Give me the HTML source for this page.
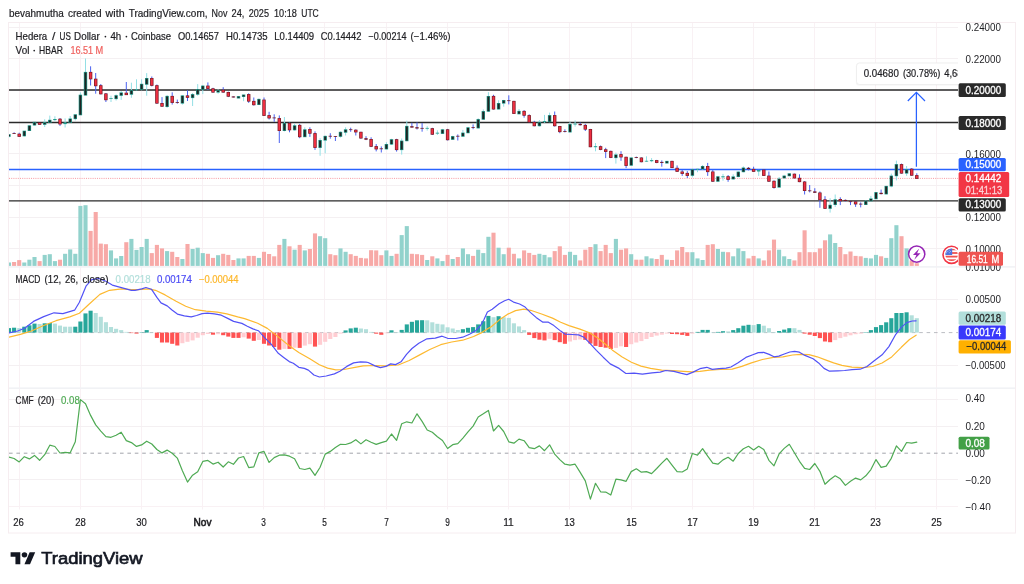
<!DOCTYPE html>
<html><head><meta charset="utf-8"><title>chart</title><style>html,body{margin:0;padding:0;background:#fff;}body{width:1024px;height:584px;position:relative;overflow:hidden;font-family:"Liberation Sans",sans-serif;}</style></head><body>
<svg width="1024" height="584" viewBox="0 0 1024 584" style="position:absolute;left:0;top:0;will-change:transform;filter:blur(0.35px)">
<defs>
<clipPath id="cm"><rect x="9.0" y="23" width="949.0" height="243.5"/></clipPath>
<clipPath id="cd"><rect x="9.0" y="268" width="949.0" height="119.5"/></clipPath>
<clipPath id="cc"><rect x="9.0" y="389" width="949.0" height="117.5"/></clipPath>
<clipPath id="ca1"><rect x="958" y="23" width="58" height="243.7"/></clipPath>
<clipPath id="ca2"><rect x="958" y="267.8" width="58" height="120"/></clipPath>
<clipPath id="ca3"><rect x="958" y="389" width="58" height="121"/></clipPath>
</defs>
<rect width="1024" height="584" fill="#fff"/>
<line x1="19.5" y1="23" x2="19.5" y2="509.5" stroke="#f9f1f4" stroke-width="1"/>
<line x1="80.5" y1="23" x2="80.5" y2="509.5" stroke="#f9f1f4" stroke-width="1"/>
<line x1="141.5" y1="23" x2="141.5" y2="509.5" stroke="#f9f1f4" stroke-width="1"/>
<line x1="202.5" y1="23" x2="202.5" y2="509.5" stroke="#f9f1f4" stroke-width="1"/>
<line x1="263.5" y1="23" x2="263.5" y2="509.5" stroke="#f9f1f4" stroke-width="1"/>
<line x1="324.5" y1="23" x2="324.5" y2="509.5" stroke="#f9f1f4" stroke-width="1"/>
<line x1="386.5" y1="23" x2="386.5" y2="509.5" stroke="#f9f1f4" stroke-width="1"/>
<line x1="447.5" y1="23" x2="447.5" y2="509.5" stroke="#f9f1f4" stroke-width="1"/>
<line x1="508.5" y1="23" x2="508.5" y2="509.5" stroke="#f9f1f4" stroke-width="1"/>
<line x1="569.5" y1="23" x2="569.5" y2="509.5" stroke="#f9f1f4" stroke-width="1"/>
<line x1="631.5" y1="23" x2="631.5" y2="509.5" stroke="#f9f1f4" stroke-width="1"/>
<line x1="692.5" y1="23" x2="692.5" y2="509.5" stroke="#f9f1f4" stroke-width="1"/>
<line x1="753.5" y1="23" x2="753.5" y2="509.5" stroke="#f9f1f4" stroke-width="1"/>
<line x1="814.5" y1="23" x2="814.5" y2="509.5" stroke="#f9f1f4" stroke-width="1"/>
<line x1="875.5" y1="23" x2="875.5" y2="509.5" stroke="#f9f1f4" stroke-width="1"/>
<line x1="936.5" y1="23" x2="936.5" y2="509.5" stroke="#f9f1f4" stroke-width="1"/>
<line x1="9.0" y1="27.5" x2="958.0" y2="27.5" stroke="#f4f0f2" stroke-width="1"/>
<line x1="9.0" y1="58.5" x2="958.0" y2="58.5" stroke="#f4f0f2" stroke-width="1"/>
<line x1="9.0" y1="90.5" x2="958.0" y2="90.5" stroke="#f4f0f2" stroke-width="1"/>
<line x1="9.0" y1="122.5" x2="958.0" y2="122.5" stroke="#f4f0f2" stroke-width="1"/>
<line x1="9.0" y1="153.5" x2="958.0" y2="153.5" stroke="#f4f0f2" stroke-width="1"/>
<line x1="9.0" y1="185.5" x2="958.0" y2="185.5" stroke="#f4f0f2" stroke-width="1"/>
<line x1="9.0" y1="217.5" x2="958.0" y2="217.5" stroke="#f4f0f2" stroke-width="1"/>
<line x1="9.0" y1="248.5" x2="958.0" y2="248.5" stroke="#f4f0f2" stroke-width="1"/>
<line x1="9.0" y1="299.5" x2="958.0" y2="299.5" stroke="#f4f0f2" stroke-width="1"/>
<line x1="9.0" y1="365.5" x2="958.0" y2="365.5" stroke="#f4f0f2" stroke-width="1"/>
<line x1="9.0" y1="399.5" x2="958.0" y2="399.5" stroke="#f4f0f2" stroke-width="1"/>
<line x1="9.0" y1="426.5" x2="958.0" y2="426.5" stroke="#f4f0f2" stroke-width="1"/>
<line x1="9.0" y1="479.5" x2="958.0" y2="479.5" stroke="#f4f0f2" stroke-width="1"/>
<rect x="8.5" y="266.1" width="1007" height="1.6" fill="#f1f2f5"/>
<rect x="8.5" y="387.4" width="1007" height="1.6" fill="#f1f2f5"/>
<line x1="9.0" y1="506.5" x2="958.0" y2="506.5" stroke="#f9f1f4" stroke-width="1"/>
<rect x="8.5" y="22.5" width="1007" height="510.5" fill="none" stroke="#f6edf0" stroke-width="1"/>
<g clip-path="url(#cm)">
<rect x="6.95" y="262.5" width="4.1" height="3.4" fill="#92d2cc"/>
<rect x="12.05" y="262.0" width="4.1" height="3.9" fill="#f7a9a7"/>
<rect x="17.15" y="260.1" width="4.1" height="5.8" fill="#f7a9a7"/>
<rect x="22.25" y="262.5" width="4.1" height="3.4" fill="#92d2cc"/>
<rect x="27.35" y="259.7" width="4.1" height="6.2" fill="#92d2cc"/>
<rect x="32.45" y="257.0" width="4.1" height="8.9" fill="#92d2cc"/>
<rect x="37.55" y="261.1" width="4.1" height="4.8" fill="#f7a9a7"/>
<rect x="42.65" y="254.9" width="4.1" height="11.0" fill="#92d2cc"/>
<rect x="47.75" y="254.2" width="4.1" height="11.7" fill="#92d2cc"/>
<rect x="52.85" y="261.1" width="4.1" height="4.8" fill="#92d2cc"/>
<rect x="57.95" y="259.7" width="4.1" height="6.2" fill="#f7a9a7"/>
<rect x="63.05" y="253.8" width="4.1" height="12.1" fill="#92d2cc"/>
<rect x="68.15" y="249.4" width="4.1" height="16.5" fill="#92d2cc"/>
<rect x="73.25" y="253.8" width="4.1" height="12.1" fill="#92d2cc"/>
<rect x="78.35" y="205.9" width="4.1" height="60.0" fill="#92d2cc"/>
<rect x="83.45" y="205.2" width="4.1" height="60.7" fill="#92d2cc"/>
<rect x="88.55" y="230.9" width="4.1" height="35.0" fill="#f7a9a7"/>
<rect x="93.65" y="212.0" width="4.1" height="53.9" fill="#f7a9a7"/>
<rect x="98.75" y="243.6" width="4.1" height="22.3" fill="#f7a9a7"/>
<rect x="103.85" y="244.2" width="4.1" height="21.7" fill="#f7a9a7"/>
<rect x="108.95" y="250.4" width="4.1" height="15.5" fill="#92d2cc"/>
<rect x="114.05" y="258.4" width="4.1" height="7.5" fill="#92d2cc"/>
<rect x="119.15" y="256.0" width="4.1" height="9.9" fill="#92d2cc"/>
<rect x="124.25" y="242.2" width="4.1" height="23.7" fill="#f7a9a7"/>
<rect x="129.35" y="238.9" width="4.1" height="27.0" fill="#92d2cc"/>
<rect x="134.45" y="249.9" width="4.1" height="16.0" fill="#92d2cc"/>
<rect x="139.55" y="247.0" width="4.1" height="18.9" fill="#92d2cc"/>
<rect x="144.65" y="238.9" width="4.1" height="27.0" fill="#92d2cc"/>
<rect x="149.75" y="253.1" width="4.1" height="12.8" fill="#f7a9a7"/>
<rect x="154.85" y="244.9" width="4.1" height="21.0" fill="#f7a9a7"/>
<rect x="159.95" y="248.4" width="4.1" height="17.5" fill="#f7a9a7"/>
<rect x="165.05" y="251.1" width="4.1" height="14.8" fill="#92d2cc"/>
<rect x="170.15" y="251.8" width="4.1" height="14.1" fill="#f7a9a7"/>
<rect x="175.25" y="257.0" width="4.1" height="8.9" fill="#f7a9a7"/>
<rect x="180.35" y="259.0" width="4.1" height="6.9" fill="#92d2cc"/>
<rect x="185.45" y="244.0" width="4.1" height="21.9" fill="#f7a9a7"/>
<rect x="190.55" y="249.0" width="4.1" height="16.9" fill="#92d2cc"/>
<rect x="195.65" y="247.7" width="4.1" height="18.2" fill="#92d2cc"/>
<rect x="200.75" y="253.1" width="4.1" height="12.8" fill="#92d2cc"/>
<rect x="205.85" y="253.8" width="4.1" height="12.1" fill="#f7a9a7"/>
<rect x="210.95" y="257.9" width="4.1" height="8.0" fill="#f7a9a7"/>
<rect x="216.05" y="255.2" width="4.1" height="10.7" fill="#92d2cc"/>
<rect x="221.15" y="253.8" width="4.1" height="12.1" fill="#f7a9a7"/>
<rect x="226.25" y="254.9" width="4.1" height="11.0" fill="#f7a9a7"/>
<rect x="231.35" y="260.0" width="4.1" height="5.9" fill="#f7a9a7"/>
<rect x="236.45" y="258.4" width="4.1" height="7.5" fill="#92d2cc"/>
<rect x="241.55" y="258.4" width="4.1" height="7.5" fill="#92d2cc"/>
<rect x="246.65" y="255.9" width="4.1" height="10.0" fill="#f7a9a7"/>
<rect x="251.75" y="255.9" width="4.1" height="10.0" fill="#f7a9a7"/>
<rect x="256.85" y="257.9" width="4.1" height="8.0" fill="#92d2cc"/>
<rect x="261.95" y="251.8" width="4.1" height="14.1" fill="#f7a9a7"/>
<rect x="267.05" y="254.0" width="4.1" height="11.9" fill="#f7a9a7"/>
<rect x="272.15" y="256.3" width="4.1" height="9.6" fill="#f7a9a7"/>
<rect x="277.25" y="244.9" width="4.1" height="21.0" fill="#f7a9a7"/>
<rect x="282.35" y="238.9" width="4.1" height="27.0" fill="#92d2cc"/>
<rect x="287.45" y="246.3" width="4.1" height="19.6" fill="#f7a9a7"/>
<rect x="292.55" y="249.7" width="4.1" height="16.2" fill="#92d2cc"/>
<rect x="297.65" y="244.9" width="4.1" height="21.0" fill="#f7a9a7"/>
<rect x="302.75" y="250.4" width="4.1" height="15.5" fill="#92d2cc"/>
<rect x="307.85" y="249.0" width="4.1" height="16.9" fill="#f7a9a7"/>
<rect x="312.95" y="233.4" width="4.1" height="32.5" fill="#f7a9a7"/>
<rect x="318.05" y="236.2" width="4.1" height="29.7" fill="#92d2cc"/>
<rect x="323.15" y="238.2" width="4.1" height="27.7" fill="#92d2cc"/>
<rect x="328.25" y="254.2" width="4.1" height="11.7" fill="#f7a9a7"/>
<rect x="333.35" y="255.2" width="4.1" height="10.7" fill="#f7a9a7"/>
<rect x="338.45" y="248.4" width="4.1" height="17.5" fill="#92d2cc"/>
<rect x="343.55" y="251.8" width="4.1" height="14.1" fill="#92d2cc"/>
<rect x="348.65" y="254.2" width="4.1" height="11.7" fill="#f7a9a7"/>
<rect x="353.75" y="255.9" width="4.1" height="10.0" fill="#f7a9a7"/>
<rect x="358.85" y="257.9" width="4.1" height="8.0" fill="#f7a9a7"/>
<rect x="363.95" y="258.4" width="4.1" height="7.5" fill="#f7a9a7"/>
<rect x="369.05" y="250.2" width="4.1" height="15.7" fill="#f7a9a7"/>
<rect x="374.15" y="250.4" width="4.1" height="15.5" fill="#f7a9a7"/>
<rect x="379.25" y="255.2" width="4.1" height="10.7" fill="#f7a9a7"/>
<rect x="384.35" y="250.4" width="4.1" height="15.5" fill="#92d2cc"/>
<rect x="389.45" y="255.9" width="4.1" height="10.0" fill="#92d2cc"/>
<rect x="394.55" y="253.8" width="4.1" height="12.1" fill="#f7a9a7"/>
<rect x="399.65" y="235.1" width="4.1" height="30.8" fill="#92d2cc"/>
<rect x="404.75" y="226.1" width="4.1" height="39.8" fill="#92d2cc"/>
<rect x="409.85" y="253.8" width="4.1" height="12.1" fill="#f7a9a7"/>
<rect x="414.95" y="254.2" width="4.1" height="11.7" fill="#f7a9a7"/>
<rect x="420.05" y="254.9" width="4.1" height="11.0" fill="#f7a9a7"/>
<rect x="425.15" y="260.0" width="4.1" height="5.9" fill="#92d2cc"/>
<rect x="430.25" y="256.3" width="4.1" height="9.6" fill="#f7a9a7"/>
<rect x="435.35" y="258.4" width="4.1" height="7.5" fill="#92d2cc"/>
<rect x="440.45" y="261.1" width="4.1" height="4.8" fill="#92d2cc"/>
<rect x="445.55" y="254.9" width="4.1" height="11.0" fill="#f7a9a7"/>
<rect x="450.65" y="259.0" width="4.1" height="6.9" fill="#92d2cc"/>
<rect x="455.75" y="257.0" width="4.1" height="8.9" fill="#f7a9a7"/>
<rect x="460.85" y="248.4" width="4.1" height="17.5" fill="#92d2cc"/>
<rect x="465.95" y="254.2" width="4.1" height="11.7" fill="#92d2cc"/>
<rect x="471.05" y="255.9" width="4.1" height="10.0" fill="#f7a9a7"/>
<rect x="476.15" y="249.7" width="4.1" height="16.2" fill="#92d2cc"/>
<rect x="481.25" y="253.1" width="4.1" height="12.8" fill="#92d2cc"/>
<rect x="486.35" y="236.8" width="4.1" height="29.1" fill="#92d2cc"/>
<rect x="491.45" y="232.7" width="4.1" height="33.2" fill="#f7a9a7"/>
<rect x="496.55" y="247.7" width="4.1" height="18.2" fill="#92d2cc"/>
<rect x="501.65" y="254.2" width="4.1" height="11.7" fill="#92d2cc"/>
<rect x="506.75" y="247.7" width="4.1" height="18.2" fill="#f7a9a7"/>
<rect x="511.85" y="253.8" width="4.1" height="12.1" fill="#f7a9a7"/>
<rect x="516.95" y="258.4" width="4.1" height="7.5" fill="#92d2cc"/>
<rect x="522.05" y="250.4" width="4.1" height="15.5" fill="#f7a9a7"/>
<rect x="527.15" y="252.9" width="4.1" height="13.0" fill="#f7a9a7"/>
<rect x="532.25" y="254.9" width="4.1" height="11.0" fill="#f7a9a7"/>
<rect x="537.35" y="253.8" width="4.1" height="12.1" fill="#92d2cc"/>
<rect x="542.45" y="254.9" width="4.1" height="11.0" fill="#92d2cc"/>
<rect x="547.55" y="257.3" width="4.1" height="8.6" fill="#92d2cc"/>
<rect x="552.65" y="251.1" width="4.1" height="14.8" fill="#f7a9a7"/>
<rect x="557.75" y="246.3" width="4.1" height="19.6" fill="#f7a9a7"/>
<rect x="562.85" y="254.9" width="4.1" height="11.0" fill="#f7a9a7"/>
<rect x="567.95" y="251.8" width="4.1" height="14.1" fill="#92d2cc"/>
<rect x="573.05" y="254.9" width="4.1" height="11.0" fill="#92d2cc"/>
<rect x="578.15" y="260.4" width="4.1" height="5.5" fill="#f7a9a7"/>
<rect x="583.25" y="249.7" width="4.1" height="16.2" fill="#f7a9a7"/>
<rect x="588.35" y="247.0" width="4.1" height="18.9" fill="#f7a9a7"/>
<rect x="593.45" y="244.2" width="4.1" height="21.7" fill="#92d2cc"/>
<rect x="598.55" y="251.1" width="4.1" height="14.8" fill="#f7a9a7"/>
<rect x="603.65" y="244.9" width="4.1" height="21.0" fill="#f7a9a7"/>
<rect x="608.75" y="253.1" width="4.1" height="12.8" fill="#f7a9a7"/>
<rect x="613.85" y="238.9" width="4.1" height="27.0" fill="#92d2cc"/>
<rect x="618.95" y="249.7" width="4.1" height="16.2" fill="#f7a9a7"/>
<rect x="624.05" y="248.4" width="4.1" height="17.5" fill="#f7a9a7"/>
<rect x="629.15" y="254.2" width="4.1" height="11.7" fill="#92d2cc"/>
<rect x="634.25" y="259.7" width="4.1" height="6.2" fill="#f7a9a7"/>
<rect x="639.35" y="259.7" width="4.1" height="6.2" fill="#f7a9a7"/>
<rect x="644.45" y="256.3" width="4.1" height="9.6" fill="#92d2cc"/>
<rect x="649.55" y="258.4" width="4.1" height="7.5" fill="#92d2cc"/>
<rect x="654.65" y="259.0" width="4.1" height="6.9" fill="#f7a9a7"/>
<rect x="659.75" y="254.9" width="4.1" height="11.0" fill="#f7a9a7"/>
<rect x="664.85" y="259.7" width="4.1" height="6.2" fill="#92d2cc"/>
<rect x="669.95" y="260.0" width="4.1" height="5.9" fill="#f7a9a7"/>
<rect x="675.05" y="250.4" width="4.1" height="15.5" fill="#f7a9a7"/>
<rect x="680.15" y="247.0" width="4.1" height="18.9" fill="#f7a9a7"/>
<rect x="685.25" y="252.2" width="4.1" height="13.7" fill="#f7a9a7"/>
<rect x="690.35" y="252.2" width="4.1" height="13.7" fill="#92d2cc"/>
<rect x="695.45" y="258.4" width="4.1" height="7.5" fill="#92d2cc"/>
<rect x="700.55" y="260.0" width="4.1" height="5.9" fill="#92d2cc"/>
<rect x="705.65" y="244.9" width="4.1" height="21.0" fill="#f7a9a7"/>
<rect x="710.75" y="244.2" width="4.1" height="21.7" fill="#f7a9a7"/>
<rect x="715.85" y="249.0" width="4.1" height="16.9" fill="#92d2cc"/>
<rect x="720.95" y="251.8" width="4.1" height="14.1" fill="#92d2cc"/>
<rect x="726.05" y="252.2" width="4.1" height="13.7" fill="#f7a9a7"/>
<rect x="731.15" y="256.3" width="4.1" height="9.6" fill="#92d2cc"/>
<rect x="736.25" y="248.4" width="4.1" height="17.5" fill="#92d2cc"/>
<rect x="741.35" y="251.1" width="4.1" height="14.8" fill="#92d2cc"/>
<rect x="746.45" y="258.4" width="4.1" height="7.5" fill="#f7a9a7"/>
<rect x="751.55" y="255.9" width="4.1" height="10.0" fill="#f7a9a7"/>
<rect x="756.65" y="258.4" width="4.1" height="7.5" fill="#92d2cc"/>
<rect x="761.75" y="260.4" width="4.1" height="5.5" fill="#f7a9a7"/>
<rect x="766.85" y="250.4" width="4.1" height="15.5" fill="#f7a9a7"/>
<rect x="771.95" y="239.6" width="4.1" height="26.3" fill="#f7a9a7"/>
<rect x="777.05" y="249.7" width="4.1" height="16.2" fill="#92d2cc"/>
<rect x="782.15" y="256.3" width="4.1" height="9.6" fill="#92d2cc"/>
<rect x="787.25" y="259.0" width="4.1" height="6.9" fill="#92d2cc"/>
<rect x="792.35" y="260.4" width="4.1" height="5.5" fill="#f7a9a7"/>
<rect x="797.45" y="252.2" width="4.1" height="13.7" fill="#f7a9a7"/>
<rect x="802.55" y="230.3" width="4.1" height="35.6" fill="#f7a9a7"/>
<rect x="807.65" y="252.2" width="4.1" height="13.7" fill="#f7a9a7"/>
<rect x="812.75" y="252.2" width="4.1" height="13.7" fill="#f7a9a7"/>
<rect x="817.85" y="248.4" width="4.1" height="17.5" fill="#f7a9a7"/>
<rect x="822.95" y="240.3" width="4.1" height="25.6" fill="#f7a9a7"/>
<rect x="828.05" y="234.4" width="4.1" height="31.5" fill="#92d2cc"/>
<rect x="833.15" y="243.0" width="4.1" height="22.9" fill="#92d2cc"/>
<rect x="838.25" y="247.0" width="4.1" height="18.9" fill="#f7a9a7"/>
<rect x="843.35" y="254.2" width="4.1" height="11.7" fill="#f7a9a7"/>
<rect x="848.45" y="251.5" width="4.1" height="14.4" fill="#f7a9a7"/>
<rect x="853.55" y="255.9" width="4.1" height="10.0" fill="#f7a9a7"/>
<rect x="858.65" y="256.3" width="4.1" height="9.6" fill="#f7a9a7"/>
<rect x="863.75" y="257.9" width="4.1" height="8.0" fill="#92d2cc"/>
<rect x="868.85" y="258.4" width="4.1" height="7.5" fill="#92d2cc"/>
<rect x="873.95" y="254.9" width="4.1" height="11.0" fill="#92d2cc"/>
<rect x="879.05" y="256.3" width="4.1" height="9.6" fill="#f7a9a7"/>
<rect x="884.15" y="257.9" width="4.1" height="8.0" fill="#92d2cc"/>
<rect x="889.25" y="238.2" width="4.1" height="27.7" fill="#92d2cc"/>
<rect x="894.35" y="225.2" width="4.1" height="40.7" fill="#92d2cc"/>
<rect x="899.45" y="236.2" width="4.1" height="29.7" fill="#f7a9a7"/>
<rect x="904.55" y="248.4" width="4.1" height="17.5" fill="#92d2cc"/>
<rect x="909.65" y="260.4" width="4.1" height="5.5" fill="#f7a9a7"/>
<rect x="914.75" y="263.2" width="4.1" height="2.7" fill="#f7a9a7"/>
<line x1="9.0" y1="90.0" x2="958.0" y2="90.0" stroke="#2a2a2a" stroke-width="1.35"/>
<line x1="9.0" y1="122.5" x2="958.0" y2="122.5" stroke="#2a2a2a" stroke-width="1.35"/>
<line x1="9.0" y1="200.9" x2="958.0" y2="200.9" stroke="#2a2a2a" stroke-width="1.35"/>
<line x1="9.0" y1="169.5" x2="958.0" y2="169.5" stroke="#2962ff" stroke-width="1.5"/>
<line x1="9.0" y1="178.4" x2="958.0" y2="178.4" stroke="#f2364580" stroke-width="1" stroke-dasharray="1 1.2"/>
<line x1="9.00" y1="134.5" x2="9.00" y2="137.5" stroke="#93dfe5" stroke-width="1"/>
<rect x="7.30" y="134.2" width="3.4" height="2.6" fill="#239c8c"/>
<rect x="8.00" y="134.8" width="2.0" height="1.4" fill="#1f2423"/>
<line x1="14.10" y1="132.3" x2="14.10" y2="134.0" stroke="#4a62f0" stroke-width="1"/>
<rect x="12.40" y="133.2" width="3.4" height="0.8" fill="#741723"/>
<line x1="19.20" y1="132.7" x2="19.20" y2="137.0" stroke="#4a62f0" stroke-width="1"/>
<rect x="17.50" y="133.7" width="3.4" height="3.1" fill="#741723"/>
<rect x="18.20" y="134.3" width="2.0" height="1.9" fill="#ee2f41"/>
<line x1="24.30" y1="131.0" x2="24.30" y2="136.5" stroke="#93dfe5" stroke-width="1"/>
<rect x="22.60" y="130.7" width="3.4" height="5.6" fill="#239c8c"/>
<rect x="23.30" y="131.3" width="2.0" height="4.4" fill="#1f2423"/>
<line x1="29.40" y1="125.6" x2="29.40" y2="130.7" stroke="#93dfe5" stroke-width="1"/>
<rect x="27.70" y="125.3" width="3.4" height="5.7" fill="#239c8c"/>
<rect x="28.40" y="125.9" width="2.0" height="4.5" fill="#1f2423"/>
<line x1="34.50" y1="122.2" x2="34.50" y2="125.5" stroke="#93dfe5" stroke-width="1"/>
<rect x="32.80" y="121.9" width="3.4" height="3.6" fill="#239c8c"/>
<rect x="33.50" y="122.5" width="2.0" height="2.4" fill="#1f2423"/>
<line x1="39.60" y1="122.7" x2="39.60" y2="124.5" stroke="#4a62f0" stroke-width="1"/>
<rect x="37.90" y="122.4" width="3.4" height="2.4" fill="#741723"/>
<rect x="38.60" y="123.0" width="2.0" height="1.2" fill="#ee2f41"/>
<line x1="44.70" y1="119.3" x2="44.70" y2="127.0" stroke="#93dfe5" stroke-width="1"/>
<rect x="43.00" y="122.2" width="3.4" height="2.6" fill="#239c8c"/>
<rect x="43.70" y="122.8" width="2.0" height="1.4" fill="#1f2423"/>
<line x1="49.80" y1="115.6" x2="49.80" y2="122.7" stroke="#93dfe5" stroke-width="1"/>
<rect x="48.10" y="119.8" width="3.4" height="3.2" fill="#239c8c"/>
<rect x="48.80" y="120.4" width="2.0" height="2.0" fill="#1f2423"/>
<line x1="54.90" y1="116.3" x2="54.90" y2="121.1" stroke="#93dfe5" stroke-width="1"/>
<rect x="53.20" y="119.0" width="3.4" height="1.1" fill="#239c8c"/>
<line x1="60.00" y1="118.0" x2="60.00" y2="125.9" stroke="#4a62f0" stroke-width="1"/>
<rect x="58.30" y="118.7" width="3.4" height="5.7" fill="#741723"/>
<rect x="59.00" y="119.3" width="2.0" height="4.5" fill="#ee2f41"/>
<line x1="65.10" y1="118.4" x2="65.10" y2="127.5" stroke="#93dfe5" stroke-width="1"/>
<rect x="63.40" y="122.5" width="3.4" height="1.6" fill="#239c8c"/>
<line x1="70.20" y1="116.0" x2="70.20" y2="122.7" stroke="#93dfe5" stroke-width="1"/>
<rect x="68.50" y="118.5" width="3.4" height="4.5" fill="#239c8c"/>
<rect x="69.20" y="119.1" width="2.0" height="3.3" fill="#1f2423"/>
<line x1="75.30" y1="114.6" x2="75.30" y2="120.4" stroke="#93dfe5" stroke-width="1"/>
<rect x="73.60" y="114.3" width="3.4" height="4.8" fill="#239c8c"/>
<rect x="74.30" y="114.9" width="2.0" height="3.6" fill="#1f2423"/>
<line x1="80.40" y1="92.3" x2="80.40" y2="115.0" stroke="#93dfe5" stroke-width="1"/>
<rect x="78.70" y="94.7" width="3.4" height="20.6" fill="#239c8c"/>
<rect x="79.40" y="95.3" width="2.0" height="19.4" fill="#1f2423"/>
<line x1="85.50" y1="58.5" x2="85.50" y2="95.3" stroke="#93dfe5" stroke-width="1"/>
<rect x="83.80" y="71.9" width="3.4" height="23.7" fill="#239c8c"/>
<rect x="84.50" y="72.5" width="2.0" height="22.5" fill="#1f2423"/>
<line x1="90.60" y1="66.3" x2="90.60" y2="85.5" stroke="#4a62f0" stroke-width="1"/>
<rect x="88.90" y="71.9" width="3.4" height="7.4" fill="#741723"/>
<rect x="89.60" y="72.5" width="2.0" height="6.2" fill="#ee2f41"/>
<line x1="95.70" y1="73.0" x2="95.70" y2="93.7" stroke="#4a62f0" stroke-width="1"/>
<rect x="94.00" y="78.7" width="3.4" height="7.5" fill="#741723"/>
<rect x="94.70" y="79.3" width="2.0" height="6.3" fill="#ee2f41"/>
<line x1="100.80" y1="84.0" x2="100.80" y2="94.4" stroke="#4a62f0" stroke-width="1"/>
<rect x="99.10" y="85.2" width="3.4" height="9.1" fill="#741723"/>
<rect x="99.80" y="85.8" width="2.0" height="7.9" fill="#ee2f41"/>
<line x1="105.90" y1="93.0" x2="105.90" y2="102.0" stroke="#4a62f0" stroke-width="1"/>
<rect x="104.20" y="93.4" width="3.4" height="6.8" fill="#741723"/>
<rect x="104.90" y="94.0" width="2.0" height="5.6" fill="#ee2f41"/>
<line x1="111.00" y1="95.7" x2="111.00" y2="102.0" stroke="#93dfe5" stroke-width="1"/>
<rect x="109.30" y="98.2" width="3.4" height="0.8" fill="#239c8c"/>
<line x1="116.10" y1="94.4" x2="116.10" y2="100.5" stroke="#93dfe5" stroke-width="1"/>
<rect x="114.40" y="95.2" width="3.4" height="3.9" fill="#239c8c"/>
<rect x="115.10" y="95.8" width="2.0" height="2.7" fill="#1f2423"/>
<line x1="121.20" y1="91.0" x2="121.20" y2="99.9" stroke="#93dfe5" stroke-width="1"/>
<rect x="119.50" y="92.4" width="3.4" height="3.4" fill="#239c8c"/>
<rect x="120.20" y="93.0" width="2.0" height="2.2" fill="#1f2423"/>
<line x1="126.30" y1="82.0" x2="126.30" y2="94.8" stroke="#4a62f0" stroke-width="1"/>
<rect x="124.60" y="92.7" width="3.4" height="2.4" fill="#741723"/>
<rect x="125.30" y="93.3" width="2.0" height="1.2" fill="#ee2f41"/>
<line x1="131.40" y1="82.7" x2="131.40" y2="97.8" stroke="#93dfe5" stroke-width="1"/>
<rect x="129.70" y="90.0" width="3.4" height="4.7" fill="#239c8c"/>
<rect x="130.40" y="90.6" width="2.0" height="3.5" fill="#1f2423"/>
<line x1="136.50" y1="79.3" x2="136.50" y2="90.3" stroke="#93dfe5" stroke-width="1"/>
<rect x="134.80" y="89.3" width="3.4" height="1.0" fill="#239c8c"/>
<line x1="141.60" y1="79.3" x2="141.60" y2="90.3" stroke="#93dfe5" stroke-width="1"/>
<rect x="139.90" y="83.8" width="3.4" height="6.1" fill="#239c8c"/>
<rect x="140.60" y="84.4" width="2.0" height="4.9" fill="#1f2423"/>
<line x1="146.70" y1="73.1" x2="146.70" y2="95.7" stroke="#93dfe5" stroke-width="1"/>
<rect x="145.00" y="78.0" width="3.4" height="6.7" fill="#239c8c"/>
<rect x="145.70" y="78.6" width="2.0" height="5.5" fill="#1f2423"/>
<line x1="151.80" y1="76.5" x2="151.80" y2="86.4" stroke="#4a62f0" stroke-width="1"/>
<rect x="150.10" y="78.0" width="3.4" height="7.8" fill="#741723"/>
<rect x="150.80" y="78.6" width="2.0" height="6.6" fill="#ee2f41"/>
<line x1="156.90" y1="84.5" x2="156.90" y2="103.8" stroke="#4a62f0" stroke-width="1"/>
<rect x="155.20" y="85.2" width="3.4" height="18.4" fill="#741723"/>
<rect x="155.90" y="85.8" width="2.0" height="17.2" fill="#ee2f41"/>
<line x1="162.00" y1="97.1" x2="162.00" y2="106.7" stroke="#4a62f0" stroke-width="1"/>
<rect x="160.30" y="103.0" width="3.4" height="3.7" fill="#741723"/>
<rect x="161.00" y="103.6" width="2.0" height="2.5" fill="#ee2f41"/>
<line x1="167.10" y1="95.1" x2="167.10" y2="107.8" stroke="#93dfe5" stroke-width="1"/>
<rect x="165.40" y="95.9" width="3.4" height="11.1" fill="#239c8c"/>
<rect x="166.10" y="96.5" width="2.0" height="9.9" fill="#1f2423"/>
<line x1="172.20" y1="92.3" x2="172.20" y2="104.6" stroke="#4a62f0" stroke-width="1"/>
<rect x="170.50" y="95.9" width="3.4" height="7.0" fill="#741723"/>
<rect x="171.20" y="96.5" width="2.0" height="5.8" fill="#ee2f41"/>
<line x1="177.30" y1="99.6" x2="177.30" y2="103.7" stroke="#4a62f0" stroke-width="1"/>
<rect x="175.60" y="102.2" width="3.4" height="0.8" fill="#741723"/>
<line x1="182.40" y1="95.0" x2="182.40" y2="104.6" stroke="#93dfe5" stroke-width="1"/>
<rect x="180.70" y="95.4" width="3.4" height="8.2" fill="#239c8c"/>
<rect x="181.40" y="96.0" width="2.0" height="7.0" fill="#1f2423"/>
<line x1="187.50" y1="90.3" x2="187.50" y2="101.0" stroke="#4a62f0" stroke-width="1"/>
<rect x="185.80" y="95.4" width="3.4" height="2.4" fill="#741723"/>
<rect x="186.50" y="96.0" width="2.0" height="1.2" fill="#ee2f41"/>
<line x1="192.60" y1="93.0" x2="192.60" y2="106.0" stroke="#93dfe5" stroke-width="1"/>
<rect x="190.90" y="94.1" width="3.4" height="4.0" fill="#239c8c"/>
<rect x="191.60" y="94.7" width="2.0" height="2.8" fill="#1f2423"/>
<line x1="197.70" y1="84.1" x2="197.70" y2="95.7" stroke="#93dfe5" stroke-width="1"/>
<rect x="196.00" y="89.0" width="3.4" height="5.7" fill="#239c8c"/>
<rect x="196.70" y="89.6" width="2.0" height="4.5" fill="#1f2423"/>
<line x1="202.80" y1="85.0" x2="202.80" y2="94.1" stroke="#93dfe5" stroke-width="1"/>
<rect x="201.10" y="85.6" width="3.4" height="4.3" fill="#239c8c"/>
<rect x="201.80" y="86.2" width="2.0" height="3.1" fill="#1f2423"/>
<line x1="207.90" y1="82.4" x2="207.90" y2="90.0" stroke="#4a62f0" stroke-width="1"/>
<rect x="206.20" y="85.6" width="3.4" height="3.3" fill="#741723"/>
<rect x="206.90" y="86.2" width="2.0" height="2.1" fill="#ee2f41"/>
<line x1="213.00" y1="87.8" x2="213.00" y2="92.7" stroke="#4a62f0" stroke-width="1"/>
<rect x="211.30" y="88.3" width="3.4" height="4.3" fill="#741723"/>
<rect x="212.00" y="88.9" width="2.0" height="3.1" fill="#ee2f41"/>
<line x1="218.10" y1="89.3" x2="218.10" y2="93.7" stroke="#93dfe5" stroke-width="1"/>
<rect x="216.40" y="90.0" width="3.4" height="2.6" fill="#239c8c"/>
<rect x="217.10" y="90.6" width="2.0" height="1.4" fill="#1f2423"/>
<line x1="223.20" y1="87.2" x2="223.20" y2="92.7" stroke="#4a62f0" stroke-width="1"/>
<rect x="221.50" y="89.7" width="3.4" height="2.9" fill="#741723"/>
<rect x="222.20" y="90.3" width="2.0" height="1.7" fill="#ee2f41"/>
<line x1="228.30" y1="91.6" x2="228.30" y2="97.1" stroke="#4a62f0" stroke-width="1"/>
<rect x="226.60" y="92.0" width="3.4" height="4.7" fill="#741723"/>
<rect x="227.30" y="92.6" width="2.0" height="3.5" fill="#ee2f41"/>
<line x1="233.40" y1="96.4" x2="233.40" y2="97.5" stroke="#4a62f0" stroke-width="1"/>
<rect x="231.70" y="96.4" width="3.4" height="1.1" fill="#741723"/>
<line x1="238.50" y1="96.4" x2="238.50" y2="98.2" stroke="#93dfe5" stroke-width="1"/>
<rect x="236.80" y="96.1" width="3.4" height="2.4" fill="#239c8c"/>
<rect x="237.50" y="96.7" width="2.0" height="1.2" fill="#1f2423"/>
<line x1="243.60" y1="94.8" x2="243.60" y2="101.2" stroke="#93dfe5" stroke-width="1"/>
<rect x="241.90" y="94.5" width="3.4" height="2.5" fill="#239c8c"/>
<rect x="242.60" y="95.1" width="2.0" height="1.3" fill="#1f2423"/>
<line x1="248.70" y1="93.3" x2="248.70" y2="102.9" stroke="#4a62f0" stroke-width="1"/>
<rect x="247.00" y="94.1" width="3.4" height="7.5" fill="#741723"/>
<rect x="247.70" y="94.7" width="2.0" height="6.3" fill="#ee2f41"/>
<line x1="253.80" y1="97.5" x2="253.80" y2="105.6" stroke="#4a62f0" stroke-width="1"/>
<rect x="252.10" y="100.9" width="3.4" height="4.3" fill="#741723"/>
<rect x="252.80" y="101.5" width="2.0" height="3.1" fill="#ee2f41"/>
<line x1="258.90" y1="98.5" x2="258.90" y2="105.1" stroke="#93dfe5" stroke-width="1"/>
<rect x="257.20" y="98.9" width="3.4" height="6.1" fill="#239c8c"/>
<rect x="257.90" y="99.5" width="2.0" height="4.9" fill="#1f2423"/>
<line x1="264.00" y1="97.5" x2="264.00" y2="115.6" stroke="#4a62f0" stroke-width="1"/>
<rect x="262.30" y="99.6" width="3.4" height="16.3" fill="#741723"/>
<rect x="263.00" y="100.2" width="2.0" height="15.1" fill="#ee2f41"/>
<line x1="269.10" y1="111.8" x2="269.10" y2="119.5" stroke="#4a62f0" stroke-width="1"/>
<rect x="267.40" y="115.1" width="3.4" height="3.3" fill="#741723"/>
<rect x="268.10" y="115.7" width="2.0" height="2.1" fill="#ee2f41"/>
<line x1="274.20" y1="114.3" x2="274.20" y2="121.8" stroke="#4a62f0" stroke-width="1"/>
<rect x="272.50" y="117.5" width="3.4" height="0.8" fill="#741723"/>
<line x1="279.30" y1="115.4" x2="279.30" y2="143.0" stroke="#4a62f0" stroke-width="1"/>
<rect x="277.60" y="118.1" width="3.4" height="12.9" fill="#741723"/>
<rect x="278.30" y="118.7" width="2.0" height="11.7" fill="#ee2f41"/>
<line x1="284.40" y1="117.0" x2="284.40" y2="131.4" stroke="#93dfe5" stroke-width="1"/>
<rect x="282.70" y="122.9" width="3.4" height="8.1" fill="#239c8c"/>
<rect x="283.40" y="123.5" width="2.0" height="6.9" fill="#1f2423"/>
<line x1="289.50" y1="122.5" x2="289.50" y2="132.3" stroke="#4a62f0" stroke-width="1"/>
<rect x="287.80" y="122.9" width="3.4" height="7.4" fill="#741723"/>
<rect x="288.50" y="123.5" width="2.0" height="6.2" fill="#ee2f41"/>
<line x1="294.60" y1="123.6" x2="294.60" y2="130.7" stroke="#93dfe5" stroke-width="1"/>
<rect x="292.90" y="125.3" width="3.4" height="5.0" fill="#239c8c"/>
<rect x="293.60" y="125.9" width="2.0" height="3.8" fill="#1f2423"/>
<line x1="299.70" y1="123.9" x2="299.70" y2="138.2" stroke="#4a62f0" stroke-width="1"/>
<rect x="298.00" y="124.9" width="3.4" height="12.3" fill="#741723"/>
<rect x="298.70" y="125.5" width="2.0" height="11.1" fill="#ee2f41"/>
<line x1="304.80" y1="127.3" x2="304.80" y2="136.9" stroke="#93dfe5" stroke-width="1"/>
<rect x="303.10" y="129.3" width="3.4" height="7.9" fill="#239c8c"/>
<rect x="303.80" y="129.9" width="2.0" height="6.7" fill="#1f2423"/>
<line x1="309.90" y1="127.3" x2="309.90" y2="136.9" stroke="#4a62f0" stroke-width="1"/>
<rect x="308.20" y="129.0" width="3.4" height="4.7" fill="#741723"/>
<rect x="308.90" y="129.6" width="2.0" height="3.5" fill="#ee2f41"/>
<line x1="315.00" y1="131.4" x2="315.00" y2="149.9" stroke="#4a62f0" stroke-width="1"/>
<rect x="313.30" y="133.1" width="3.4" height="14.8" fill="#741723"/>
<rect x="314.00" y="133.7" width="2.0" height="13.6" fill="#ee2f41"/>
<line x1="320.10" y1="138.2" x2="320.10" y2="155.8" stroke="#93dfe5" stroke-width="1"/>
<rect x="318.40" y="140.0" width="3.4" height="7.9" fill="#239c8c"/>
<rect x="319.10" y="140.6" width="2.0" height="6.7" fill="#1f2423"/>
<line x1="325.20" y1="135.5" x2="325.20" y2="153.3" stroke="#93dfe5" stroke-width="1"/>
<rect x="323.50" y="135.9" width="3.4" height="4.7" fill="#239c8c"/>
<rect x="324.20" y="136.5" width="2.0" height="3.5" fill="#1f2423"/>
<line x1="330.30" y1="133.2" x2="330.30" y2="138.7" stroke="#4a62f0" stroke-width="1"/>
<rect x="328.60" y="135.8" width="3.4" height="0.8" fill="#741723"/>
<line x1="335.40" y1="136.0" x2="335.40" y2="141.0" stroke="#4a62f0" stroke-width="1"/>
<rect x="333.70" y="136.0" width="3.4" height="0.8" fill="#741723"/>
<line x1="340.50" y1="131.4" x2="340.50" y2="137.6" stroke="#93dfe5" stroke-width="1"/>
<rect x="338.80" y="131.8" width="3.4" height="5.0" fill="#239c8c"/>
<rect x="339.50" y="132.4" width="2.0" height="3.8" fill="#1f2423"/>
<line x1="345.60" y1="127.3" x2="345.60" y2="135.5" stroke="#93dfe5" stroke-width="1"/>
<rect x="343.90" y="129.3" width="3.4" height="3.4" fill="#239c8c"/>
<rect x="344.60" y="129.9" width="2.0" height="2.2" fill="#1f2423"/>
<line x1="350.70" y1="127.7" x2="350.70" y2="131.8" stroke="#4a62f0" stroke-width="1"/>
<rect x="349.00" y="129.3" width="3.4" height="0.8" fill="#741723"/>
<line x1="355.80" y1="129.3" x2="355.80" y2="135.5" stroke="#4a62f0" stroke-width="1"/>
<rect x="354.10" y="129.7" width="3.4" height="2.7" fill="#741723"/>
<rect x="354.80" y="130.3" width="2.0" height="1.5" fill="#ee2f41"/>
<line x1="360.90" y1="131.8" x2="360.90" y2="138.7" stroke="#4a62f0" stroke-width="1"/>
<rect x="359.20" y="131.8" width="3.4" height="6.7" fill="#741723"/>
<rect x="359.90" y="132.4" width="2.0" height="5.5" fill="#ee2f41"/>
<line x1="366.00" y1="136.2" x2="366.00" y2="140.1" stroke="#4a62f0" stroke-width="1"/>
<rect x="364.30" y="138.2" width="3.4" height="1.5" fill="#741723"/>
<line x1="371.10" y1="137.3" x2="371.10" y2="147.1" stroke="#4a62f0" stroke-width="1"/>
<rect x="369.40" y="139.0" width="3.4" height="7.8" fill="#741723"/>
<rect x="370.10" y="139.6" width="2.0" height="6.6" fill="#ee2f41"/>
<line x1="376.20" y1="144.0" x2="376.20" y2="151.4" stroke="#4a62f0" stroke-width="1"/>
<rect x="374.50" y="146.1" width="3.4" height="3.3" fill="#741723"/>
<rect x="375.20" y="146.7" width="2.0" height="2.1" fill="#ee2f41"/>
<line x1="381.30" y1="146.4" x2="381.30" y2="152.5" stroke="#4a62f0" stroke-width="1"/>
<rect x="379.60" y="148.4" width="3.4" height="0.8" fill="#741723"/>
<line x1="386.40" y1="142.2" x2="386.40" y2="149.5" stroke="#93dfe5" stroke-width="1"/>
<rect x="384.70" y="144.0" width="3.4" height="5.4" fill="#239c8c"/>
<rect x="385.40" y="144.6" width="2.0" height="4.2" fill="#1f2423"/>
<line x1="391.50" y1="138.8" x2="391.50" y2="145.0" stroke="#93dfe5" stroke-width="1"/>
<rect x="389.80" y="139.2" width="3.4" height="5.4" fill="#239c8c"/>
<rect x="390.50" y="139.8" width="2.0" height="4.2" fill="#1f2423"/>
<line x1="396.60" y1="138.8" x2="396.60" y2="151.6" stroke="#4a62f0" stroke-width="1"/>
<rect x="394.90" y="139.2" width="3.4" height="10.9" fill="#741723"/>
<rect x="395.60" y="139.8" width="2.0" height="9.7" fill="#ee2f41"/>
<line x1="401.70" y1="138.5" x2="401.70" y2="154.6" stroke="#93dfe5" stroke-width="1"/>
<rect x="400.00" y="140.6" width="3.4" height="9.5" fill="#239c8c"/>
<rect x="400.70" y="141.2" width="2.0" height="8.3" fill="#1f2423"/>
<line x1="406.80" y1="120.7" x2="406.80" y2="141.3" stroke="#93dfe5" stroke-width="1"/>
<rect x="405.10" y="125.9" width="3.4" height="15.3" fill="#239c8c"/>
<rect x="405.80" y="126.5" width="2.0" height="14.1" fill="#1f2423"/>
<line x1="411.90" y1="122.8" x2="411.90" y2="127.6" stroke="#4a62f0" stroke-width="1"/>
<rect x="410.20" y="126.2" width="3.4" height="1.4" fill="#741723"/>
<line x1="417.00" y1="122.4" x2="417.00" y2="129.5" stroke="#4a62f0" stroke-width="1"/>
<rect x="415.30" y="127.2" width="3.4" height="1.3" fill="#741723"/>
<line x1="422.10" y1="123.0" x2="422.10" y2="131.7" stroke="#4a62f0" stroke-width="1"/>
<rect x="420.40" y="127.9" width="3.4" height="0.8" fill="#741723"/>
<line x1="427.20" y1="126.2" x2="427.20" y2="130.6" stroke="#93dfe5" stroke-width="1"/>
<rect x="425.50" y="127.9" width="3.4" height="0.8" fill="#239c8c"/>
<line x1="432.30" y1="127.8" x2="432.30" y2="135.0" stroke="#4a62f0" stroke-width="1"/>
<rect x="430.60" y="128.2" width="3.4" height="6.5" fill="#741723"/>
<rect x="431.30" y="128.8" width="2.0" height="5.3" fill="#ee2f41"/>
<line x1="437.40" y1="130.3" x2="437.40" y2="135.0" stroke="#93dfe5" stroke-width="1"/>
<rect x="435.70" y="132.7" width="3.4" height="0.9" fill="#239c8c"/>
<line x1="442.50" y1="128.9" x2="442.50" y2="134.0" stroke="#93dfe5" stroke-width="1"/>
<rect x="440.80" y="129.3" width="3.4" height="4.6" fill="#239c8c"/>
<rect x="441.50" y="129.9" width="2.0" height="3.4" fill="#1f2423"/>
<line x1="447.60" y1="128.9" x2="447.60" y2="140.5" stroke="#4a62f0" stroke-width="1"/>
<rect x="445.90" y="129.3" width="3.4" height="10.9" fill="#741723"/>
<rect x="446.60" y="129.9" width="2.0" height="9.7" fill="#ee2f41"/>
<line x1="452.70" y1="135.8" x2="452.70" y2="139.9" stroke="#93dfe5" stroke-width="1"/>
<rect x="451.00" y="136.1" width="3.4" height="3.7" fill="#239c8c"/>
<rect x="451.70" y="136.7" width="2.0" height="2.5" fill="#1f2423"/>
<line x1="457.80" y1="134.4" x2="457.80" y2="140.5" stroke="#4a62f0" stroke-width="1"/>
<rect x="456.10" y="135.8" width="3.4" height="0.8" fill="#741723"/>
<line x1="462.90" y1="129.9" x2="462.90" y2="136.8" stroke="#93dfe5" stroke-width="1"/>
<rect x="461.20" y="132.6" width="3.4" height="4.1" fill="#239c8c"/>
<rect x="461.90" y="133.2" width="2.0" height="2.9" fill="#1f2423"/>
<line x1="468.00" y1="126.9" x2="468.00" y2="133.3" stroke="#93dfe5" stroke-width="1"/>
<rect x="466.30" y="127.3" width="3.4" height="5.9" fill="#239c8c"/>
<rect x="467.00" y="127.9" width="2.0" height="4.7" fill="#1f2423"/>
<line x1="473.10" y1="124.4" x2="473.10" y2="129.2" stroke="#4a62f0" stroke-width="1"/>
<rect x="471.40" y="127.2" width="3.4" height="0.8" fill="#741723"/>
<line x1="478.20" y1="118.3" x2="478.20" y2="128.5" stroke="#93dfe5" stroke-width="1"/>
<rect x="476.50" y="119.1" width="3.4" height="9.3" fill="#239c8c"/>
<rect x="477.20" y="119.7" width="2.0" height="8.1" fill="#1f2423"/>
<line x1="483.30" y1="109.4" x2="483.30" y2="119.9" stroke="#93dfe5" stroke-width="1"/>
<rect x="481.60" y="111.1" width="3.4" height="8.6" fill="#239c8c"/>
<rect x="482.30" y="111.7" width="2.0" height="7.4" fill="#1f2423"/>
<line x1="488.40" y1="92.2" x2="488.40" y2="112.0" stroke="#93dfe5" stroke-width="1"/>
<rect x="486.70" y="96.0" width="3.4" height="15.7" fill="#239c8c"/>
<rect x="487.40" y="96.6" width="2.0" height="14.5" fill="#1f2423"/>
<line x1="493.50" y1="94.8" x2="493.50" y2="109.5" stroke="#4a62f0" stroke-width="1"/>
<rect x="491.80" y="95.9" width="3.4" height="13.6" fill="#741723"/>
<rect x="492.50" y="96.5" width="2.0" height="12.4" fill="#ee2f41"/>
<line x1="498.60" y1="100.3" x2="498.60" y2="109.5" stroke="#93dfe5" stroke-width="1"/>
<rect x="496.90" y="103.0" width="3.4" height="6.5" fill="#239c8c"/>
<rect x="497.60" y="103.6" width="2.0" height="5.3" fill="#1f2423"/>
<line x1="503.70" y1="99.9" x2="503.70" y2="106.7" stroke="#93dfe5" stroke-width="1"/>
<rect x="502.00" y="100.0" width="3.4" height="3.6" fill="#239c8c"/>
<rect x="502.70" y="100.6" width="2.0" height="2.4" fill="#1f2423"/>
<line x1="508.80" y1="95.3" x2="508.80" y2="104.4" stroke="#4a62f0" stroke-width="1"/>
<rect x="507.10" y="100.3" width="3.4" height="0.8" fill="#741723"/>
<line x1="513.90" y1="100.8" x2="513.90" y2="114.0" stroke="#4a62f0" stroke-width="1"/>
<rect x="512.20" y="100.9" width="3.4" height="13.0" fill="#741723"/>
<rect x="512.90" y="101.5" width="2.0" height="11.8" fill="#ee2f41"/>
<line x1="519.00" y1="109.0" x2="519.00" y2="114.3" stroke="#93dfe5" stroke-width="1"/>
<rect x="517.30" y="110.9" width="3.4" height="3.4" fill="#239c8c"/>
<rect x="518.00" y="111.5" width="2.0" height="2.2" fill="#1f2423"/>
<line x1="524.10" y1="110.1" x2="524.10" y2="117.7" stroke="#4a62f0" stroke-width="1"/>
<rect x="522.40" y="110.9" width="3.4" height="4.8" fill="#741723"/>
<rect x="523.10" y="111.5" width="2.0" height="3.6" fill="#ee2f41"/>
<line x1="529.20" y1="114.3" x2="529.20" y2="122.5" stroke="#4a62f0" stroke-width="1"/>
<rect x="527.50" y="115.1" width="3.4" height="7.4" fill="#741723"/>
<rect x="528.20" y="115.7" width="2.0" height="6.2" fill="#ee2f41"/>
<line x1="534.30" y1="120.8" x2="534.30" y2="126.3" stroke="#4a62f0" stroke-width="1"/>
<rect x="532.60" y="121.9" width="3.4" height="4.3" fill="#741723"/>
<rect x="533.30" y="122.5" width="2.0" height="3.1" fill="#ee2f41"/>
<line x1="539.40" y1="120.0" x2="539.40" y2="126.6" stroke="#93dfe5" stroke-width="1"/>
<rect x="537.70" y="121.9" width="3.4" height="4.3" fill="#239c8c"/>
<rect x="538.40" y="122.5" width="2.0" height="3.1" fill="#1f2423"/>
<line x1="544.50" y1="114.9" x2="544.50" y2="122.8" stroke="#93dfe5" stroke-width="1"/>
<rect x="542.80" y="121.1" width="3.4" height="1.1" fill="#239c8c"/>
<line x1="549.60" y1="112.6" x2="549.60" y2="122.2" stroke="#93dfe5" stroke-width="1"/>
<rect x="547.90" y="115.1" width="3.4" height="7.0" fill="#239c8c"/>
<rect x="548.60" y="115.7" width="2.0" height="5.8" fill="#1f2423"/>
<line x1="554.70" y1="111.5" x2="554.70" y2="126.6" stroke="#4a62f0" stroke-width="1"/>
<rect x="553.00" y="115.1" width="3.4" height="11.1" fill="#741723"/>
<rect x="553.70" y="115.7" width="2.0" height="9.9" fill="#ee2f41"/>
<line x1="559.80" y1="125.9" x2="559.80" y2="133.2" stroke="#4a62f0" stroke-width="1"/>
<rect x="558.10" y="126.0" width="3.4" height="6.1" fill="#741723"/>
<rect x="558.80" y="126.6" width="2.0" height="4.9" fill="#ee2f41"/>
<line x1="564.90" y1="129.3" x2="564.90" y2="132.4" stroke="#4a62f0" stroke-width="1"/>
<rect x="563.20" y="131.1" width="3.4" height="0.8" fill="#741723"/>
<line x1="570.00" y1="121.8" x2="570.00" y2="132.8" stroke="#93dfe5" stroke-width="1"/>
<rect x="568.30" y="124.0" width="3.4" height="8.4" fill="#239c8c"/>
<rect x="569.00" y="124.6" width="2.0" height="7.2" fill="#1f2423"/>
<line x1="575.10" y1="120.4" x2="575.10" y2="126.6" stroke="#93dfe5" stroke-width="1"/>
<rect x="573.40" y="123.6" width="3.4" height="0.9" fill="#239c8c"/>
<line x1="580.20" y1="122.5" x2="580.20" y2="125.6" stroke="#4a62f0" stroke-width="1"/>
<rect x="578.50" y="123.9" width="3.4" height="1.3" fill="#741723"/>
<line x1="585.30" y1="123.9" x2="585.30" y2="131.0" stroke="#4a62f0" stroke-width="1"/>
<rect x="583.60" y="124.9" width="3.4" height="4.7" fill="#741723"/>
<rect x="584.30" y="125.5" width="2.0" height="3.5" fill="#ee2f41"/>
<line x1="590.40" y1="128.9" x2="590.40" y2="147.2" stroke="#4a62f0" stroke-width="1"/>
<rect x="588.70" y="129.0" width="3.4" height="18.2" fill="#741723"/>
<rect x="589.40" y="129.6" width="2.0" height="17.0" fill="#ee2f41"/>
<line x1="595.50" y1="143.0" x2="595.50" y2="151.3" stroke="#93dfe5" stroke-width="1"/>
<rect x="593.80" y="146.2" width="3.4" height="1.0" fill="#239c8c"/>
<line x1="600.60" y1="145.5" x2="600.60" y2="150.2" stroke="#4a62f0" stroke-width="1"/>
<rect x="598.90" y="146.2" width="3.4" height="3.7" fill="#741723"/>
<rect x="599.60" y="146.8" width="2.0" height="2.5" fill="#ee2f41"/>
<line x1="605.70" y1="147.8" x2="605.70" y2="158.1" stroke="#4a62f0" stroke-width="1"/>
<rect x="604.00" y="149.3" width="3.4" height="2.6" fill="#741723"/>
<rect x="604.70" y="149.9" width="2.0" height="1.4" fill="#ee2f41"/>
<line x1="610.80" y1="150.6" x2="610.80" y2="158.1" stroke="#4a62f0" stroke-width="1"/>
<rect x="609.10" y="150.9" width="3.4" height="7.0" fill="#741723"/>
<rect x="609.80" y="151.5" width="2.0" height="5.8" fill="#ee2f41"/>
<line x1="615.90" y1="152.6" x2="615.90" y2="163.6" stroke="#93dfe5" stroke-width="1"/>
<rect x="614.20" y="154.4" width="3.4" height="3.7" fill="#239c8c"/>
<rect x="614.90" y="155.0" width="2.0" height="2.5" fill="#1f2423"/>
<line x1="621.00" y1="151.2" x2="621.00" y2="160.8" stroke="#4a62f0" stroke-width="1"/>
<rect x="619.30" y="154.1" width="3.4" height="3.3" fill="#741723"/>
<rect x="620.00" y="154.7" width="2.0" height="2.1" fill="#ee2f41"/>
<line x1="626.10" y1="156.7" x2="626.10" y2="168.1" stroke="#4a62f0" stroke-width="1"/>
<rect x="624.40" y="156.8" width="3.4" height="9.1" fill="#741723"/>
<rect x="625.10" y="157.4" width="2.0" height="7.9" fill="#ee2f41"/>
<line x1="631.20" y1="157.1" x2="631.20" y2="165.6" stroke="#93dfe5" stroke-width="1"/>
<rect x="629.50" y="157.5" width="3.4" height="8.2" fill="#239c8c"/>
<rect x="630.20" y="158.1" width="2.0" height="7.0" fill="#1f2423"/>
<line x1="636.30" y1="156.6" x2="636.30" y2="158.2" stroke="#4a62f0" stroke-width="1"/>
<rect x="634.60" y="157.1" width="3.4" height="0.8" fill="#741723"/>
<line x1="641.40" y1="157.4" x2="641.40" y2="162.3" stroke="#4a62f0" stroke-width="1"/>
<rect x="639.70" y="157.5" width="3.4" height="4.7" fill="#741723"/>
<rect x="640.40" y="158.1" width="2.0" height="3.5" fill="#ee2f41"/>
<line x1="646.50" y1="156.3" x2="646.50" y2="161.8" stroke="#93dfe5" stroke-width="1"/>
<rect x="644.80" y="160.8" width="3.4" height="0.8" fill="#239c8c"/>
<line x1="651.60" y1="158.1" x2="651.60" y2="162.2" stroke="#93dfe5" stroke-width="1"/>
<rect x="649.90" y="160.1" width="3.4" height="1.1" fill="#239c8c"/>
<line x1="656.70" y1="159.9" x2="656.70" y2="163.2" stroke="#4a62f0" stroke-width="1"/>
<rect x="655.00" y="160.1" width="3.4" height="2.8" fill="#741723"/>
<rect x="655.70" y="160.7" width="2.0" height="1.6" fill="#ee2f41"/>
<line x1="661.80" y1="160.4" x2="661.80" y2="166.7" stroke="#4a62f0" stroke-width="1"/>
<rect x="660.10" y="161.9" width="3.4" height="1.0" fill="#741723"/>
<line x1="666.90" y1="160.9" x2="666.90" y2="163.5" stroke="#93dfe5" stroke-width="1"/>
<rect x="665.20" y="160.9" width="3.4" height="2.6" fill="#239c8c"/>
<rect x="665.90" y="161.5" width="2.0" height="1.4" fill="#1f2423"/>
<line x1="672.00" y1="160.8" x2="672.00" y2="168.1" stroke="#4a62f0" stroke-width="1"/>
<rect x="670.30" y="160.9" width="3.4" height="7.1" fill="#741723"/>
<rect x="671.00" y="161.5" width="2.0" height="5.9" fill="#ee2f41"/>
<line x1="677.10" y1="165.4" x2="677.10" y2="171.9" stroke="#4a62f0" stroke-width="1"/>
<rect x="675.40" y="167.8" width="3.4" height="4.0" fill="#741723"/>
<rect x="676.10" y="168.4" width="2.0" height="2.8" fill="#ee2f41"/>
<line x1="682.20" y1="170.0" x2="682.20" y2="175.9" stroke="#4a62f0" stroke-width="1"/>
<rect x="680.50" y="171.5" width="3.4" height="2.4" fill="#741723"/>
<rect x="681.20" y="172.1" width="2.0" height="1.2" fill="#ee2f41"/>
<line x1="687.30" y1="171.1" x2="687.30" y2="178.0" stroke="#4a62f0" stroke-width="1"/>
<rect x="685.60" y="172.9" width="3.4" height="3.0" fill="#741723"/>
<rect x="686.30" y="173.5" width="2.0" height="1.8" fill="#ee2f41"/>
<line x1="692.40" y1="168.8" x2="692.40" y2="177.3" stroke="#93dfe5" stroke-width="1"/>
<rect x="690.70" y="169.2" width="3.4" height="6.6" fill="#239c8c"/>
<rect x="691.40" y="169.8" width="2.0" height="5.4" fill="#1f2423"/>
<line x1="697.50" y1="168.8" x2="697.50" y2="172.2" stroke="#93dfe5" stroke-width="1"/>
<rect x="695.80" y="168.8" width="3.4" height="0.9" fill="#239c8c"/>
<line x1="702.60" y1="165.0" x2="702.60" y2="169.7" stroke="#93dfe5" stroke-width="1"/>
<rect x="700.90" y="166.0" width="3.4" height="3.4" fill="#239c8c"/>
<rect x="701.60" y="166.6" width="2.0" height="2.2" fill="#1f2423"/>
<line x1="707.70" y1="162.9" x2="707.70" y2="175.9" stroke="#4a62f0" stroke-width="1"/>
<rect x="706.00" y="166.0" width="3.4" height="6.1" fill="#741723"/>
<rect x="706.70" y="166.6" width="2.0" height="4.9" fill="#ee2f41"/>
<line x1="712.80" y1="169.7" x2="712.80" y2="181.8" stroke="#4a62f0" stroke-width="1"/>
<rect x="711.10" y="171.5" width="3.4" height="10.2" fill="#741723"/>
<rect x="711.80" y="172.1" width="2.0" height="9.0" fill="#ee2f41"/>
<line x1="717.90" y1="175.9" x2="717.90" y2="181.8" stroke="#93dfe5" stroke-width="1"/>
<rect x="716.20" y="176.3" width="3.4" height="5.4" fill="#239c8c"/>
<rect x="716.90" y="176.9" width="2.0" height="4.2" fill="#1f2423"/>
<line x1="723.00" y1="173.9" x2="723.00" y2="180.7" stroke="#93dfe5" stroke-width="1"/>
<rect x="721.30" y="176.3" width="3.4" height="1.0" fill="#239c8c"/>
<line x1="728.10" y1="175.0" x2="728.10" y2="181.8" stroke="#4a62f0" stroke-width="1"/>
<rect x="726.40" y="176.2" width="3.4" height="3.7" fill="#741723"/>
<rect x="727.10" y="176.8" width="2.0" height="2.5" fill="#ee2f41"/>
<line x1="733.20" y1="174.3" x2="733.20" y2="179.7" stroke="#93dfe5" stroke-width="1"/>
<rect x="731.50" y="176.4" width="3.4" height="3.0" fill="#239c8c"/>
<rect x="732.20" y="177.0" width="2.0" height="1.8" fill="#1f2423"/>
<line x1="738.30" y1="171.2" x2="738.30" y2="177.3" stroke="#93dfe5" stroke-width="1"/>
<rect x="736.60" y="171.6" width="3.4" height="5.4" fill="#239c8c"/>
<rect x="737.30" y="172.2" width="2.0" height="4.2" fill="#1f2423"/>
<line x1="743.40" y1="166.4" x2="743.40" y2="172.3" stroke="#93dfe5" stroke-width="1"/>
<rect x="741.70" y="167.5" width="3.4" height="4.7" fill="#239c8c"/>
<rect x="742.40" y="168.1" width="2.0" height="3.5" fill="#1f2423"/>
<line x1="748.50" y1="167.1" x2="748.50" y2="170.4" stroke="#4a62f0" stroke-width="1"/>
<rect x="746.80" y="167.8" width="3.4" height="1.4" fill="#741723"/>
<line x1="753.60" y1="166.7" x2="753.60" y2="171.9" stroke="#4a62f0" stroke-width="1"/>
<rect x="751.90" y="168.9" width="3.4" height="2.9" fill="#741723"/>
<rect x="752.60" y="169.5" width="2.0" height="1.7" fill="#ee2f41"/>
<line x1="758.70" y1="169.9" x2="758.70" y2="175.9" stroke="#93dfe5" stroke-width="1"/>
<rect x="757.00" y="170.1" width="3.4" height="1.4" fill="#239c8c"/>
<line x1="763.80" y1="169.5" x2="763.80" y2="175.9" stroke="#4a62f0" stroke-width="1"/>
<rect x="762.10" y="169.6" width="3.4" height="6.3" fill="#741723"/>
<rect x="762.80" y="170.2" width="2.0" height="5.1" fill="#ee2f41"/>
<line x1="768.90" y1="171.5" x2="768.90" y2="181.8" stroke="#4a62f0" stroke-width="1"/>
<rect x="767.20" y="175.6" width="3.4" height="6.1" fill="#741723"/>
<rect x="767.90" y="176.2" width="2.0" height="4.9" fill="#ee2f41"/>
<line x1="774.00" y1="180.4" x2="774.00" y2="188.6" stroke="#4a62f0" stroke-width="1"/>
<rect x="772.30" y="180.8" width="3.4" height="7.2" fill="#741723"/>
<rect x="773.00" y="181.4" width="2.0" height="6.0" fill="#ee2f41"/>
<line x1="779.10" y1="177.0" x2="779.10" y2="187.7" stroke="#93dfe5" stroke-width="1"/>
<rect x="777.40" y="178.5" width="3.4" height="9.1" fill="#239c8c"/>
<rect x="778.10" y="179.1" width="2.0" height="7.9" fill="#1f2423"/>
<line x1="784.20" y1="174.9" x2="784.20" y2="178.4" stroke="#93dfe5" stroke-width="1"/>
<rect x="782.50" y="175.6" width="3.4" height="2.8" fill="#239c8c"/>
<rect x="783.20" y="176.2" width="2.0" height="1.6" fill="#1f2423"/>
<line x1="789.30" y1="173.2" x2="789.30" y2="176.3" stroke="#93dfe5" stroke-width="1"/>
<rect x="787.60" y="173.3" width="3.4" height="2.9" fill="#239c8c"/>
<rect x="788.30" y="173.9" width="2.0" height="1.7" fill="#1f2423"/>
<line x1="794.40" y1="173.6" x2="794.40" y2="178.4" stroke="#4a62f0" stroke-width="1"/>
<rect x="792.70" y="173.7" width="3.4" height="4.7" fill="#741723"/>
<rect x="793.40" y="174.3" width="2.0" height="3.5" fill="#ee2f41"/>
<line x1="799.50" y1="174.3" x2="799.50" y2="182.2" stroke="#4a62f0" stroke-width="1"/>
<rect x="797.80" y="177.8" width="3.4" height="4.3" fill="#741723"/>
<rect x="798.50" y="178.4" width="2.0" height="3.1" fill="#ee2f41"/>
<line x1="804.60" y1="181.1" x2="804.60" y2="194.5" stroke="#4a62f0" stroke-width="1"/>
<rect x="802.90" y="181.5" width="3.4" height="9.5" fill="#741723"/>
<rect x="803.60" y="182.1" width="2.0" height="8.3" fill="#ee2f41"/>
<line x1="809.70" y1="185.0" x2="809.70" y2="192.4" stroke="#4a62f0" stroke-width="1"/>
<rect x="808.00" y="190.4" width="3.4" height="0.8" fill="#741723"/>
<line x1="814.80" y1="188.2" x2="814.80" y2="193.0" stroke="#4a62f0" stroke-width="1"/>
<rect x="813.10" y="191.4" width="3.4" height="1.4" fill="#741723"/>
<line x1="819.90" y1="191.4" x2="819.90" y2="207.8" stroke="#4a62f0" stroke-width="1"/>
<rect x="818.20" y="192.5" width="3.4" height="7.7" fill="#741723"/>
<rect x="818.90" y="193.1" width="2.0" height="6.5" fill="#ee2f41"/>
<line x1="825.00" y1="196.2" x2="825.00" y2="208.9" stroke="#4a62f0" stroke-width="1"/>
<rect x="823.30" y="199.3" width="3.4" height="9.5" fill="#741723"/>
<rect x="824.00" y="199.9" width="2.0" height="8.3" fill="#ee2f41"/>
<line x1="830.10" y1="198.2" x2="830.10" y2="212.6" stroke="#93dfe5" stroke-width="1"/>
<rect x="828.40" y="204.8" width="3.4" height="4.0" fill="#239c8c"/>
<rect x="829.10" y="205.4" width="2.0" height="2.8" fill="#1f2423"/>
<line x1="835.20" y1="194.5" x2="835.20" y2="206.9" stroke="#93dfe5" stroke-width="1"/>
<rect x="833.50" y="199.3" width="3.4" height="5.7" fill="#239c8c"/>
<rect x="834.20" y="199.9" width="2.0" height="4.5" fill="#1f2423"/>
<line x1="840.30" y1="197.3" x2="840.30" y2="205.1" stroke="#4a62f0" stroke-width="1"/>
<rect x="838.60" y="199.0" width="3.4" height="2.3" fill="#741723"/>
<rect x="839.30" y="199.6" width="2.0" height="1.1" fill="#ee2f41"/>
<line x1="845.40" y1="199.5" x2="845.40" y2="201.4" stroke="#4a62f0" stroke-width="1"/>
<rect x="843.70" y="199.9" width="3.4" height="1.1" fill="#741723"/>
<line x1="850.50" y1="201.0" x2="850.50" y2="205.1" stroke="#4a62f0" stroke-width="1"/>
<rect x="848.80" y="201.3" width="3.4" height="0.8" fill="#741723"/>
<line x1="855.60" y1="201.1" x2="855.60" y2="206.9" stroke="#4a62f0" stroke-width="1"/>
<rect x="853.90" y="201.4" width="3.4" height="3.0" fill="#741723"/>
<rect x="854.60" y="202.0" width="2.0" height="1.8" fill="#ee2f41"/>
<line x1="860.70" y1="202.4" x2="860.70" y2="207.4" stroke="#4a62f0" stroke-width="1"/>
<rect x="859.00" y="203.7" width="3.4" height="0.8" fill="#741723"/>
<line x1="865.80" y1="200.6" x2="865.80" y2="205.0" stroke="#93dfe5" stroke-width="1"/>
<rect x="864.10" y="200.7" width="3.4" height="4.3" fill="#239c8c"/>
<rect x="864.80" y="201.3" width="2.0" height="3.1" fill="#1f2423"/>
<line x1="870.90" y1="195.9" x2="870.90" y2="201.3" stroke="#93dfe5" stroke-width="1"/>
<rect x="869.20" y="198.4" width="3.4" height="2.9" fill="#239c8c"/>
<rect x="869.90" y="199.0" width="2.0" height="1.7" fill="#1f2423"/>
<line x1="876.00" y1="192.0" x2="876.00" y2="199.2" stroke="#93dfe5" stroke-width="1"/>
<rect x="874.30" y="192.1" width="3.4" height="7.1" fill="#239c8c"/>
<rect x="875.00" y="192.7" width="2.0" height="5.9" fill="#1f2423"/>
<line x1="881.10" y1="189.6" x2="881.10" y2="194.4" stroke="#4a62f0" stroke-width="1"/>
<rect x="879.40" y="192.8" width="3.4" height="1.3" fill="#741723"/>
<line x1="886.20" y1="185.8" x2="886.20" y2="194.4" stroke="#93dfe5" stroke-width="1"/>
<rect x="884.50" y="185.9" width="3.4" height="8.5" fill="#239c8c"/>
<rect x="885.20" y="186.5" width="2.0" height="7.3" fill="#1f2423"/>
<line x1="891.30" y1="173.6" x2="891.30" y2="187.3" stroke="#93dfe5" stroke-width="1"/>
<rect x="889.60" y="175.6" width="3.4" height="10.9" fill="#239c8c"/>
<rect x="890.30" y="176.2" width="2.0" height="9.7" fill="#1f2423"/>
<line x1="896.40" y1="160.6" x2="896.40" y2="180.4" stroke="#93dfe5" stroke-width="1"/>
<rect x="894.70" y="164.1" width="3.4" height="12.1" fill="#239c8c"/>
<rect x="895.40" y="164.7" width="2.0" height="10.9" fill="#1f2423"/>
<line x1="901.50" y1="163.6" x2="901.50" y2="173.6" stroke="#4a62f0" stroke-width="1"/>
<rect x="899.80" y="164.1" width="3.4" height="9.5" fill="#741723"/>
<rect x="900.50" y="164.7" width="2.0" height="8.3" fill="#ee2f41"/>
<line x1="906.60" y1="166.0" x2="906.60" y2="175.9" stroke="#93dfe5" stroke-width="1"/>
<rect x="904.90" y="169.2" width="3.4" height="4.4" fill="#239c8c"/>
<rect x="905.60" y="169.8" width="2.0" height="3.2" fill="#1f2423"/>
<line x1="911.70" y1="168.1" x2="911.70" y2="175.7" stroke="#4a62f0" stroke-width="1"/>
<rect x="910.00" y="168.7" width="3.4" height="7.0" fill="#741723"/>
<rect x="910.70" y="169.3" width="2.0" height="5.8" fill="#ee2f41"/>
<line x1="916.80" y1="173.3" x2="916.80" y2="178.6" stroke="#4a62f0" stroke-width="1"/>
<rect x="915.10" y="175.1" width="3.4" height="3.8" fill="#741723"/>
<rect x="915.80" y="175.7" width="2.0" height="2.6" fill="#ee2f41"/>
<line x1="916.4" y1="92.5" x2="916.4" y2="166.7" stroke="#2962ff" stroke-width="1.25"/>
<polyline points="907.8,101 916.4,92.4 925,101" fill="none" stroke="#2962ff" stroke-width="1.25"/>
<rect x="855.8" y="62.8" width="131" height="23" rx="3.5" fill="#000" opacity="0.035"/>
<rect x="856.5" y="63" width="130" height="21.5" rx="3" fill="#fff" stroke="#ededed" stroke-width="0.9"/>
<text x="863.7" y="77.1" font-family="Liberation Sans, sans-serif" font-size="10.2" fill="#1e1e22" stroke="#1e1e22" stroke-width="0.2" textLength="35.1" lengthAdjust="spacingAndGlyphs">0.04680</text>
<text x="902.9" y="77.1" font-family="Liberation Sans, sans-serif" font-size="10.2" fill="#1e1e22" stroke="#1e1e22" stroke-width="0.2" textLength="37.4" lengthAdjust="spacingAndGlyphs">(30.78%)</text>
<text x="944.2" y="77.1" font-family="Liberation Sans, sans-serif" font-size="10.2" fill="#1e1e22" stroke="#1e1e22" stroke-width="0.2" textLength="23.5" lengthAdjust="spacingAndGlyphs">4,680</text>
<circle cx="916.7" cy="254.1" r="8.1" fill="#fff" stroke="#9526b5" stroke-width="1.5"/>
<path d="M919.2 248.6 L913 255 L916.4 255 L914.3 259.7 L920.5 253.2 L917.1 253.2 Z" fill="#9526b5"/>
<g><circle cx="951.6" cy="254.8" r="8.6" fill="#fff" stroke="#f23645" stroke-width="1.6"/>
<clipPath id="fl"><circle cx="951.6" cy="254.8" r="6.3"/></clipPath><g clip-path="url(#fl)">
<rect x="944" y="248" width="18" height="14" fill="#fff"/>
<rect x="944" y="248.5" width="18" height="1.8" fill="#ef5350"/>
<rect x="944" y="252.1" width="18" height="1.8" fill="#ef5350"/>
<rect x="944" y="255.7" width="18" height="1.8" fill="#ef5350"/>
<rect x="944" y="259.3" width="18" height="1.8" fill="#ef5350"/>
<rect x="944" y="247" width="8.2" height="8" fill="#4f74dd"/>
<circle cx="946.6" cy="250.2" r="0.45" fill="#dfe6fb"/>
<circle cx="949.2" cy="250.2" r="0.45" fill="#dfe6fb"/>
<circle cx="946.6" cy="252.8" r="0.45" fill="#dfe6fb"/>
<circle cx="949.2" cy="252.8" r="0.45" fill="#dfe6fb"/>
<circle cx="947.9" cy="251.5" r="0.45" fill="#dfe6fb"/>
<circle cx="950.6" cy="251.5" r="0.45" fill="#dfe6fb"/>
</g></g>
</g>
<g clip-path="url(#cd)">
<line x1="9.0" y1="332.6" x2="958.0" y2="332.6" stroke="#a8abb3" stroke-width="0.8" stroke-dasharray="3.6 3.8"/>
<rect x="6.95" y="328.1" width="4.1" height="4.5" fill="#26a69a"/>
<rect x="12.05" y="327.7" width="4.1" height="4.9" fill="#26a69a"/>
<rect x="17.15" y="328.1" width="4.1" height="4.5" fill="#b2dfdb"/>
<rect x="22.25" y="326.7" width="4.1" height="5.9" fill="#26a69a"/>
<rect x="27.35" y="325.3" width="4.1" height="7.3" fill="#26a69a"/>
<rect x="32.45" y="323.6" width="4.1" height="9.0" fill="#26a69a"/>
<rect x="37.55" y="324.0" width="4.1" height="8.6" fill="#b2dfdb"/>
<rect x="42.65" y="323.3" width="4.1" height="9.3" fill="#26a69a"/>
<rect x="47.75" y="323.0" width="4.1" height="9.6" fill="#26a69a"/>
<rect x="52.85" y="323.6" width="4.1" height="9.0" fill="#b2dfdb"/>
<rect x="57.95" y="325.6" width="4.1" height="7.0" fill="#b2dfdb"/>
<rect x="63.05" y="326.7" width="4.1" height="5.9" fill="#b2dfdb"/>
<rect x="68.15" y="326.7" width="4.1" height="5.9" fill="#b2dfdb"/>
<rect x="73.25" y="326.7" width="4.1" height="5.9" fill="#26a69a"/>
<rect x="78.35" y="321.5" width="4.1" height="11.1" fill="#26a69a"/>
<rect x="83.45" y="313.4" width="4.1" height="19.2" fill="#26a69a"/>
<rect x="88.55" y="310.7" width="4.1" height="21.9" fill="#26a69a"/>
<rect x="93.65" y="313.0" width="4.1" height="19.6" fill="#b2dfdb"/>
<rect x="98.75" y="316.8" width="4.1" height="15.8" fill="#b2dfdb"/>
<rect x="103.85" y="322.2" width="4.1" height="10.4" fill="#b2dfdb"/>
<rect x="108.95" y="327.0" width="4.1" height="5.6" fill="#b2dfdb"/>
<rect x="114.05" y="328.8" width="4.1" height="3.8" fill="#b2dfdb"/>
<rect x="119.15" y="330.1" width="4.1" height="2.5" fill="#b2dfdb"/>
<rect x="124.25" y="331.9" width="4.1" height="0.7" fill="#b2dfdb"/>
<rect x="129.35" y="332.6" width="4.1" height="0.5" fill="#ff5252"/>
<rect x="134.45" y="332.6" width="4.1" height="1.0" fill="#ff5252"/>
<rect x="139.55" y="332.2" width="4.1" height="0.4" fill="#26a69a"/>
<rect x="144.65" y="330.1" width="4.1" height="2.5" fill="#26a69a"/>
<rect x="149.75" y="332.4" width="4.1" height="0.2" fill="#b2dfdb"/>
<rect x="154.85" y="332.6" width="4.1" height="5.3" fill="#ff5252"/>
<rect x="159.95" y="332.6" width="4.1" height="9.9" fill="#ff5252"/>
<rect x="165.05" y="332.6" width="4.1" height="9.9" fill="#ff5252"/>
<rect x="170.15" y="332.6" width="4.1" height="11.2" fill="#ff5252"/>
<rect x="175.25" y="332.6" width="4.1" height="12.9" fill="#ff5252"/>
<rect x="180.35" y="332.6" width="4.1" height="10.6" fill="#ffcdd2"/>
<rect x="185.45" y="332.6" width="4.1" height="9.2" fill="#ffcdd2"/>
<rect x="190.55" y="332.6" width="4.1" height="7.8" fill="#ffcdd2"/>
<rect x="195.65" y="332.6" width="4.1" height="5.1" fill="#ffcdd2"/>
<rect x="200.75" y="332.6" width="4.1" height="2.6" fill="#ffcdd2"/>
<rect x="205.85" y="332.6" width="4.1" height="1.4" fill="#ffcdd2"/>
<rect x="210.95" y="332.6" width="4.1" height="2.1" fill="#ff5252"/>
<rect x="216.05" y="332.6" width="4.1" height="1.6" fill="#ffcdd2"/>
<rect x="221.15" y="332.6" width="4.1" height="2.6" fill="#ff5252"/>
<rect x="226.25" y="332.6" width="4.1" height="4.0" fill="#ff5252"/>
<rect x="231.35" y="332.6" width="4.1" height="5.3" fill="#ff5252"/>
<rect x="236.45" y="332.6" width="4.1" height="5.3" fill="#ff5252"/>
<rect x="241.55" y="332.6" width="4.1" height="4.7" fill="#ffcdd2"/>
<rect x="246.65" y="332.6" width="4.1" height="6.0" fill="#ff5252"/>
<rect x="251.75" y="332.6" width="4.1" height="8.2" fill="#ff5252"/>
<rect x="256.85" y="332.6" width="4.1" height="7.4" fill="#ffcdd2"/>
<rect x="261.95" y="332.6" width="4.1" height="11.2" fill="#ff5252"/>
<rect x="267.05" y="332.6" width="4.1" height="12.9" fill="#ff5252"/>
<rect x="272.15" y="332.6" width="4.1" height="14.4" fill="#ff5252"/>
<rect x="277.25" y="332.6" width="4.1" height="17.1" fill="#ff5252"/>
<rect x="282.35" y="332.6" width="4.1" height="16.3" fill="#ffcdd2"/>
<rect x="287.45" y="332.6" width="4.1" height="16.3" fill="#ff5252"/>
<rect x="292.55" y="332.6" width="4.1" height="15.1" fill="#ffcdd2"/>
<rect x="297.65" y="332.6" width="4.1" height="15.3" fill="#ff5252"/>
<rect x="302.75" y="332.6" width="4.1" height="13.0" fill="#ffcdd2"/>
<rect x="307.85" y="332.6" width="4.1" height="11.6" fill="#ffcdd2"/>
<rect x="312.95" y="332.6" width="4.1" height="14.0" fill="#ff5252"/>
<rect x="318.05" y="332.6" width="4.1" height="12.2" fill="#ffcdd2"/>
<rect x="323.15" y="332.6" width="4.1" height="9.2" fill="#ffcdd2"/>
<rect x="328.25" y="332.6" width="4.1" height="6.4" fill="#ffcdd2"/>
<rect x="333.35" y="332.6" width="4.1" height="4.4" fill="#ffcdd2"/>
<rect x="338.45" y="332.6" width="4.1" height="1.0" fill="#ffcdd2"/>
<rect x="343.55" y="330.4" width="4.1" height="2.2" fill="#26a69a"/>
<rect x="348.65" y="328.4" width="4.1" height="4.2" fill="#26a69a"/>
<rect x="353.75" y="327.7" width="4.1" height="4.9" fill="#26a69a"/>
<rect x="358.85" y="328.5" width="4.1" height="4.1" fill="#b2dfdb"/>
<rect x="363.95" y="329.2" width="4.1" height="3.4" fill="#b2dfdb"/>
<rect x="369.05" y="331.9" width="4.1" height="0.7" fill="#b2dfdb"/>
<rect x="374.15" y="332.6" width="4.1" height="1.1" fill="#ff5252"/>
<rect x="379.25" y="332.6" width="4.1" height="2.2" fill="#ff5252"/>
<rect x="384.35" y="332.6" width="4.1" height="0.7" fill="#ffcdd2"/>
<rect x="389.45" y="330.3" width="4.1" height="2.3" fill="#26a69a"/>
<rect x="394.55" y="332.1" width="4.1" height="0.5" fill="#b2dfdb"/>
<rect x="399.65" y="329.9" width="4.1" height="2.7" fill="#26a69a"/>
<rect x="404.75" y="324.4" width="4.1" height="8.2" fill="#26a69a"/>
<rect x="409.85" y="321.8" width="4.1" height="10.8" fill="#26a69a"/>
<rect x="414.95" y="320.3" width="4.1" height="12.3" fill="#26a69a"/>
<rect x="420.05" y="320.2" width="4.1" height="12.4" fill="#26a69a"/>
<rect x="425.15" y="320.3" width="4.1" height="12.3" fill="#b2dfdb"/>
<rect x="430.25" y="322.3" width="4.1" height="10.3" fill="#b2dfdb"/>
<rect x="435.35" y="323.8" width="4.1" height="8.8" fill="#b2dfdb"/>
<rect x="440.45" y="324.4" width="4.1" height="8.2" fill="#b2dfdb"/>
<rect x="445.55" y="327.3" width="4.1" height="5.3" fill="#b2dfdb"/>
<rect x="450.65" y="328.5" width="4.1" height="4.1" fill="#b2dfdb"/>
<rect x="455.75" y="330.0" width="4.1" height="2.6" fill="#b2dfdb"/>
<rect x="460.85" y="329.2" width="4.1" height="3.4" fill="#26a69a"/>
<rect x="465.95" y="327.8" width="4.1" height="4.8" fill="#26a69a"/>
<rect x="471.05" y="327.1" width="4.1" height="5.5" fill="#26a69a"/>
<rect x="476.15" y="324.4" width="4.1" height="8.2" fill="#26a69a"/>
<rect x="481.25" y="321.2" width="4.1" height="11.4" fill="#26a69a"/>
<rect x="486.35" y="315.9" width="4.1" height="16.7" fill="#26a69a"/>
<rect x="491.45" y="317.2" width="4.1" height="15.4" fill="#b2dfdb"/>
<rect x="496.55" y="316.2" width="4.1" height="16.4" fill="#26a69a"/>
<rect x="501.65" y="317.3" width="4.1" height="15.3" fill="#b2dfdb"/>
<rect x="506.75" y="317.9" width="4.1" height="14.7" fill="#b2dfdb"/>
<rect x="511.85" y="323.3" width="4.1" height="9.3" fill="#b2dfdb"/>
<rect x="516.95" y="326.4" width="4.1" height="6.2" fill="#b2dfdb"/>
<rect x="522.05" y="330.1" width="4.1" height="2.5" fill="#b2dfdb"/>
<rect x="527.15" y="332.6" width="4.1" height="2.3" fill="#ff5252"/>
<rect x="532.25" y="332.6" width="4.1" height="5.5" fill="#ff5252"/>
<rect x="537.35" y="332.6" width="4.1" height="7.1" fill="#ff5252"/>
<rect x="542.45" y="332.6" width="4.1" height="7.8" fill="#ff5252"/>
<rect x="547.55" y="332.6" width="4.1" height="6.2" fill="#ffcdd2"/>
<rect x="552.65" y="332.6" width="4.1" height="7.5" fill="#ff5252"/>
<rect x="557.75" y="332.6" width="4.1" height="9.6" fill="#ff5252"/>
<rect x="562.85" y="332.6" width="4.1" height="11.2" fill="#ff5252"/>
<rect x="567.95" y="332.6" width="4.1" height="8.9" fill="#ffcdd2"/>
<rect x="573.05" y="332.6" width="4.1" height="7.5" fill="#ffcdd2"/>
<rect x="578.15" y="332.6" width="4.1" height="6.9" fill="#ffcdd2"/>
<rect x="583.25" y="332.6" width="4.1" height="7.3" fill="#ff5252"/>
<rect x="588.35" y="332.6" width="4.1" height="11.0" fill="#ff5252"/>
<rect x="593.45" y="332.6" width="4.1" height="13.3" fill="#ff5252"/>
<rect x="598.55" y="332.6" width="4.1" height="14.4" fill="#ff5252"/>
<rect x="603.65" y="332.6" width="4.1" height="15.1" fill="#ff5252"/>
<rect x="608.75" y="332.6" width="4.1" height="16.4" fill="#ff5252"/>
<rect x="613.85" y="332.6" width="4.1" height="15.3" fill="#ffcdd2"/>
<rect x="618.95" y="332.6" width="4.1" height="13.7" fill="#ffcdd2"/>
<rect x="624.05" y="332.6" width="4.1" height="14.4" fill="#ff5252"/>
<rect x="629.15" y="332.6" width="4.1" height="11.6" fill="#ffcdd2"/>
<rect x="634.25" y="332.6" width="4.1" height="9.9" fill="#ffcdd2"/>
<rect x="639.35" y="332.6" width="4.1" height="8.5" fill="#ffcdd2"/>
<rect x="644.45" y="332.6" width="4.1" height="6.4" fill="#ffcdd2"/>
<rect x="649.55" y="332.6" width="4.1" height="4.4" fill="#ffcdd2"/>
<rect x="654.65" y="332.6" width="4.1" height="3.0" fill="#ffcdd2"/>
<rect x="659.75" y="332.6" width="4.1" height="2.1" fill="#ffcdd2"/>
<rect x="664.85" y="332.6" width="4.1" height="1.0" fill="#ffcdd2"/>
<rect x="669.95" y="332.6" width="4.1" height="1.4" fill="#ff5252"/>
<rect x="675.05" y="332.6" width="4.1" height="1.6" fill="#ff5252"/>
<rect x="680.15" y="332.6" width="4.1" height="2.3" fill="#ff5252"/>
<rect x="685.25" y="332.6" width="4.1" height="3.3" fill="#ff5252"/>
<rect x="690.35" y="332.6" width="4.1" height="1.0" fill="#ffcdd2"/>
<rect x="695.45" y="331.9" width="4.1" height="0.7" fill="#26a69a"/>
<rect x="700.55" y="329.9" width="4.1" height="2.7" fill="#26a69a"/>
<rect x="705.65" y="329.9" width="4.1" height="2.7" fill="#26a69a"/>
<rect x="710.75" y="332.2" width="4.1" height="0.4" fill="#b2dfdb"/>
<rect x="715.85" y="331.9" width="4.1" height="0.7" fill="#26a69a"/>
<rect x="720.95" y="331.2" width="4.1" height="1.4" fill="#26a69a"/>
<rect x="726.05" y="331.4" width="4.1" height="1.2" fill="#b2dfdb"/>
<rect x="731.15" y="330.1" width="4.1" height="2.5" fill="#26a69a"/>
<rect x="736.25" y="328.2" width="4.1" height="4.4" fill="#26a69a"/>
<rect x="741.35" y="325.7" width="4.1" height="6.9" fill="#26a69a"/>
<rect x="746.45" y="324.8" width="4.1" height="7.8" fill="#26a69a"/>
<rect x="751.55" y="325.1" width="4.1" height="7.5" fill="#b2dfdb"/>
<rect x="756.65" y="324.1" width="4.1" height="8.5" fill="#26a69a"/>
<rect x="761.75" y="325.7" width="4.1" height="6.9" fill="#b2dfdb"/>
<rect x="766.85" y="328.2" width="4.1" height="4.4" fill="#b2dfdb"/>
<rect x="771.95" y="332.1" width="4.1" height="0.5" fill="#b2dfdb"/>
<rect x="777.05" y="331.0" width="4.1" height="1.6" fill="#26a69a"/>
<rect x="782.15" y="329.6" width="4.1" height="3.0" fill="#26a69a"/>
<rect x="787.25" y="328.2" width="4.1" height="4.4" fill="#26a69a"/>
<rect x="792.35" y="328.2" width="4.1" height="4.4" fill="#b2dfdb"/>
<rect x="797.45" y="329.9" width="4.1" height="2.7" fill="#b2dfdb"/>
<rect x="802.55" y="332.6" width="4.1" height="1.0" fill="#ff5252"/>
<rect x="807.65" y="332.6" width="4.1" height="2.1" fill="#ff5252"/>
<rect x="812.75" y="332.6" width="4.1" height="3.4" fill="#ff5252"/>
<rect x="817.85" y="332.6" width="4.1" height="5.5" fill="#ff5252"/>
<rect x="822.95" y="332.6" width="4.1" height="8.9" fill="#ff5252"/>
<rect x="828.05" y="332.6" width="4.1" height="9.6" fill="#ff5252"/>
<rect x="833.15" y="332.6" width="4.1" height="7.5" fill="#ffcdd2"/>
<rect x="838.25" y="332.6" width="4.1" height="5.5" fill="#ffcdd2"/>
<rect x="843.35" y="332.6" width="4.1" height="4.1" fill="#ffcdd2"/>
<rect x="848.45" y="332.6" width="4.1" height="2.7" fill="#ffcdd2"/>
<rect x="853.55" y="332.6" width="4.1" height="1.6" fill="#ffcdd2"/>
<rect x="858.65" y="332.6" width="4.1" height="1.0" fill="#ffcdd2"/>
<rect x="863.75" y="332.2" width="4.1" height="0.4" fill="#26a69a"/>
<rect x="868.85" y="330.1" width="4.1" height="2.5" fill="#26a69a"/>
<rect x="873.95" y="327.1" width="4.1" height="5.5" fill="#26a69a"/>
<rect x="879.05" y="325.1" width="4.1" height="7.5" fill="#26a69a"/>
<rect x="884.15" y="322.3" width="4.1" height="10.3" fill="#26a69a"/>
<rect x="889.25" y="318.2" width="4.1" height="14.4" fill="#26a69a"/>
<rect x="894.35" y="313.0" width="4.1" height="19.6" fill="#26a69a"/>
<rect x="899.45" y="313.0" width="4.1" height="19.6" fill="#26a69a"/>
<rect x="904.55" y="312.3" width="4.1" height="20.3" fill="#26a69a"/>
<rect x="909.65" y="315.3" width="4.1" height="17.3" fill="#b2dfdb"/>
<rect x="914.75" y="318.2" width="4.1" height="14.4" fill="#b2dfdb"/>
<polyline points="9.0,337.2 20.4,334.4 31.4,331.0 43.7,325.5 56.0,320.7 69.8,316.9 79.4,313.2 89.0,304.3 99.9,294.4 109.5,290.3 121.9,288.9 131.4,289.6 137.7,289.6 148.7,288.8 155.5,290.3 165.1,294.9 176.1,301.2 185.7,306.3 195.3,309.7 206.2,311.1 217.2,312.2 226.8,313.9 237.7,316.9 244.6,318.6 257.7,323.2 267.3,328.4 278.3,336.9 289.2,345.8 298.8,352.6 309.8,358.8 319.4,364.7 327.6,368.1 335.8,369.8 344.0,369.5 353.6,367.7 363.2,365.9 375.0,365.5 384.6,365.9 398.3,365.0 409.2,360.5 418.8,355.4 429.8,349.5 440.7,344.7 451.7,342.0 462.7,340.2 473.6,336.5 481.8,332.6 487.3,328.9 490.9,327.0 499.1,320.1 507.3,314.4 515.5,310.6 523.7,309.2 530.6,310.3 541.6,314.0 552.5,318.1 560.7,322.2 569.0,325.6 579.9,329.1 589.5,332.8 597.7,338.0 606.0,344.8 612.2,349.9 621.8,356.8 631.4,362.2 641.0,366.1 650.6,368.4 661.6,370.1 672.5,370.7 683.5,371.4 691.7,371.8 699.9,371.4 709.5,370.2 720.5,369.5 732.2,369.1 741.8,366.4 751.4,362.9 762.4,359.5 773.3,357.4 782.9,356.8 792.5,355.0 800.7,354.3 809.0,354.7 817.2,356.8 825.4,359.9 833.6,362.9 841.9,365.3 851.9,367.2 862.9,367.6 872.5,366.5 882.1,363.0 891.7,356.9 901.3,347.3 909.5,339.5 916.1,335.2" fill="none" stroke="#fdb930" stroke-width="1.2" stroke-linejoin="round" stroke-linecap="round"/>
<polyline points="9.0,332.8 17.7,331.0 24.6,328.2 33.5,321.4 43.7,316.6 54.0,312.8 62.9,313.6 74.6,310.2 79.4,302.2 86.2,285.8 91.7,279.6 98.6,278.5 105.4,281.0 112.3,285.1 123.2,288.1 131.4,290.3 135.0,290.3 141.8,288.9 145.9,287.5 151.4,289.2 156.9,297.4 161.0,302.9 167.2,305.9 172.0,310.0 177.4,314.1 184.3,315.9 191.2,316.9 196.6,315.5 202.1,313.6 207.6,313.2 214.4,313.9 221.3,315.2 228.2,318.6 233.6,321.4 241.9,323.4 247.3,326.2 252.9,328.9 258.4,330.7 264.6,337.6 271.4,344.4 278.3,353.3 283.7,357.4 289.2,361.6 293.3,363.2 298.8,367.3 304.3,368.4 308.4,370.1 313.9,375.0 319.4,377.0 326.2,376.0 334.4,373.9 339.9,371.2 346.8,366.4 353.6,362.9 360.5,361.8 366.0,362.2 368.1,362.5 375.0,365.9 380.4,367.6 385.9,366.4 390.7,363.9 395.5,364.6 401.0,361.8 406.5,354.3 412.0,348.5 418.8,343.3 427.0,338.8 435.3,338.1 442.1,336.2 447.6,338.3 455.8,338.5 462.7,337.2 469.5,334.2 475.0,331.3 480.5,325.5 484.0,319.5 487.4,311.9 492.2,309.2 499.1,303.7 504.6,300.7 508.7,299.3 513.5,302.1 519.6,304.0 525.1,307.1 530.6,312.6 536.1,317.4 542.9,322.2 548.4,322.2 553.9,325.6 560.7,331.1 564.9,334.1 571.7,334.5 578.6,334.9 584.0,337.3 589.5,342.8 596.4,350.3 603.2,357.2 610.2,363.9 619.1,368.4 625.9,373.5 634.1,373.2 642.4,374.2 652.0,372.8 660.2,372.1 665.7,370.5 673.9,371.4 680.7,373.2 686.9,374.6 693.1,372.1 699.9,368.7 706.8,367.3 712.3,369.4 719.1,368.7 726.0,368.1 730.9,367.0 737.7,362.9 745.9,357.4 752.8,354.7 758.3,352.6 763.7,352.4 769.2,354.4 774.0,356.8 778.8,356.1 784.3,354.0 789.8,352.0 794.6,351.4 799.4,352.2 804.9,355.4 813.1,358.8 818.6,362.9 824.0,368.4 829.5,371.2 837.7,370.9 844.6,370.5 852.0,369.7 860.1,369.2 867.0,366.5 873.9,361.0 882.1,354.8 888.9,346.6 895.8,334.3 901.3,327.4 906.7,322.6 912.2,321.0 916.1,320.8" fill="none" stroke="#5252f6" stroke-width="1.2" stroke-linejoin="round" stroke-linecap="round"/>
</g>
<g clip-path="url(#cc)">
<line x1="9.0" y1="453.2" x2="958.0" y2="453.2" stroke="#979aa3" stroke-width="0.9" stroke-dasharray="3.6 3.8"/>
<polyline points="9.0,457.2 14.1,458.5 19.2,461.9 24.3,456.7 29.4,458.9 34.5,455.4 39.6,460.3 44.7,454.7 49.8,445.2 54.9,446.5 60.0,453.0 65.1,452.4 70.2,452.8 75.3,441.8 80.4,399.6 85.5,403.7 90.6,415.4 95.7,424.9 100.8,431.1 105.9,436.6 111.0,437.3 116.1,435.2 121.2,432.2 126.3,440.6 131.4,442.6 136.5,446.4 141.6,444.9 146.7,441.2 151.8,444.0 156.9,449.5 162.0,452.9 167.1,450.1 172.2,453.3 177.3,458.1 182.4,470.7 187.5,482.1 192.6,475.2 197.7,471.8 202.8,461.4 207.9,460.4 213.0,464.1 218.1,462.2 223.2,467.0 228.3,461.8 233.4,464.3 238.5,458.0 243.6,456.5 248.7,467.6 253.8,466.9 258.9,452.8 264.0,451.4 269.1,462.4 274.2,457.6 279.3,455.2 284.4,454.8 289.5,456.2 294.6,458.7 299.7,468.5 304.8,469.5 309.9,468.1 315.0,475.4 320.1,467.2 325.2,454.1 330.3,451.4 335.4,447.6 340.5,444.3 345.6,444.5 350.7,442.9 355.8,439.7 360.9,443.9 366.0,439.8 371.1,442.3 376.2,444.4 381.3,442.6 386.4,441.2 391.5,434.0 396.6,440.3 401.7,423.8 406.8,421.8 411.9,423.0 417.0,413.8 422.1,421.4 427.2,430.0 432.3,432.3 437.4,436.7 442.5,440.5 447.6,448.5 452.7,444.7 457.8,443.6 462.9,438.1 468.0,431.9 473.1,426.1 478.2,417.0 483.3,413.8 488.4,410.4 493.5,431.0 498.6,425.4 503.7,431.5 508.8,441.8 513.9,443.2 519.0,439.1 524.1,440.7 529.2,447.6 534.3,448.7 539.4,445.9 544.5,450.7 549.6,444.8 554.7,454.1 559.8,459.6 564.9,464.2 570.0,465.1 575.1,464.2 580.2,472.4 585.3,480.9 590.4,499.1 595.5,483.3 600.6,491.8 605.7,492.1 610.8,495.0 615.9,479.2 621.0,479.9 626.1,481.3 631.2,471.6 636.3,468.8 641.4,472.2 646.5,471.6 651.6,473.6 656.7,468.5 661.8,463.1 666.9,458.3 672.0,465.1 677.1,471.6 682.2,472.0 687.3,468.9 692.4,453.5 697.5,455.1 702.6,448.7 707.7,456.2 712.8,463.1 717.9,464.2 723.0,459.9 728.1,457.3 733.2,461.2 738.3,453.5 743.4,448.7 748.5,446.3 753.6,450.0 758.7,446.3 763.8,449.6 768.9,460.3 774.0,465.8 779.1,453.9 784.2,448.4 789.3,444.3 794.4,452.8 799.5,461.3 804.6,468.3 809.7,469.5 814.8,463.5 819.9,471.3 825.0,484.3 830.1,479.5 835.2,475.8 840.3,478.8 845.4,485.4 850.5,481.3 855.6,478.1 860.7,479.9 865.8,475.8 870.9,469.6 876.0,459.6 881.1,467.4 886.2,466.2 891.3,458.3 896.4,445.9 901.5,451.4 906.6,442.5 911.7,443.2 916.8,442.2" fill="none" stroke="#4faa54" stroke-width="1.2" stroke-linejoin="round" stroke-linecap="round"/>
</g>
<text x="9" y="16.5" font-family="Liberation Sans, sans-serif" font-size="10.6" fill="#1e1e22" stroke="#1e1e22" stroke-width="0.2" textLength="54.75" lengthAdjust="spacingAndGlyphs">bevahmutha</text>
<text x="67.9" y="16.5" font-family="Liberation Sans, sans-serif" font-size="10.6" fill="#1e1e22" stroke="#1e1e22" stroke-width="0.2" textLength="33.6" lengthAdjust="spacingAndGlyphs">created</text>
<text x="105.6" y="16.5" font-family="Liberation Sans, sans-serif" font-size="10.6" fill="#1e1e22" stroke="#1e1e22" stroke-width="0.2" textLength="19.0" lengthAdjust="spacingAndGlyphs">with</text>
<text x="128.75" y="16.5" font-family="Liberation Sans, sans-serif" font-size="10.6" fill="#1e1e22" stroke="#1e1e22" stroke-width="0.2" textLength="78.75" lengthAdjust="spacingAndGlyphs">TradingView.com,</text>
<text x="211.6" y="16.5" font-family="Liberation Sans, sans-serif" font-size="10.6" fill="#1e1e22" stroke="#1e1e22" stroke-width="0.2" textLength="15.9" lengthAdjust="spacingAndGlyphs">Nov</text>
<text x="231.5" y="16.5" font-family="Liberation Sans, sans-serif" font-size="10.6" fill="#1e1e22" stroke="#1e1e22" stroke-width="0.2" textLength="12.9" lengthAdjust="spacingAndGlyphs">24,</text>
<text x="248.75" y="16.5" font-family="Liberation Sans, sans-serif" font-size="10.6" fill="#1e1e22" stroke="#1e1e22" stroke-width="0.2" textLength="20.25" lengthAdjust="spacingAndGlyphs">2025</text>
<text x="274" y="16.5" font-family="Liberation Sans, sans-serif" font-size="10.6" fill="#1e1e22" stroke="#1e1e22" stroke-width="0.2" textLength="22.9" lengthAdjust="spacingAndGlyphs">10:18</text>
<text x="301.25" y="16.5" font-family="Liberation Sans, sans-serif" font-size="10.6" fill="#1e1e22" stroke="#1e1e22" stroke-width="0.2" textLength="17.5" lengthAdjust="spacingAndGlyphs">UTC</text>
<text x="15.6" y="39.5" font-family="Liberation Sans, sans-serif" font-size="10.2" fill="#1e1e22" stroke="#1e1e22" stroke-width="0.2" textLength="31.65" lengthAdjust="spacingAndGlyphs">Hedera</text>
<text x="51.9" y="39.5" font-family="Liberation Sans, sans-serif" font-size="10.2" fill="#1e1e22" stroke="#1e1e22" stroke-width="0.2" textLength="3.35" lengthAdjust="spacingAndGlyphs">/</text>
<text x="59.6" y="39.5" font-family="Liberation Sans, sans-serif" font-size="10.2" fill="#1e1e22" stroke="#1e1e22" stroke-width="0.2" textLength="11.3" lengthAdjust="spacingAndGlyphs">US</text>
<text x="74.1" y="39.5" font-family="Liberation Sans, sans-serif" font-size="10.2" fill="#1e1e22" stroke="#1e1e22" stroke-width="0.2" textLength="25.65" lengthAdjust="spacingAndGlyphs">Dollar</text>
<text x="110.4" y="39.5" font-family="Liberation Sans, sans-serif" font-size="10.2" fill="#1e1e22" stroke="#1e1e22" stroke-width="0.2" textLength="10.85" lengthAdjust="spacingAndGlyphs">4h</text>
<text x="130.9" y="39.5" font-family="Liberation Sans, sans-serif" font-size="10.2" fill="#1e1e22" stroke="#1e1e22" stroke-width="0.2" textLength="40.2" lengthAdjust="spacingAndGlyphs">Coinbase</text>
<text x="177.9" y="39.5" font-family="Liberation Sans, sans-serif" font-size="10.2" fill="#1e1e22" stroke="#1e1e22" stroke-width="0.2" textLength="41.1" lengthAdjust="spacingAndGlyphs">O0.14657</text>
<text x="226.1" y="39.5" font-family="Liberation Sans, sans-serif" font-size="10.2" fill="#1e1e22" stroke="#1e1e22" stroke-width="0.2" textLength="41.5" lengthAdjust="spacingAndGlyphs">H0.14735</text>
<text x="274.3" y="39.5" font-family="Liberation Sans, sans-serif" font-size="10.2" fill="#1e1e22" stroke="#1e1e22" stroke-width="0.2" textLength="39.9" lengthAdjust="spacingAndGlyphs">L0.14409</text>
<text x="320.8" y="39.5" font-family="Liberation Sans, sans-serif" font-size="10.2" fill="#1e1e22" stroke="#1e1e22" stroke-width="0.2" textLength="40.7" lengthAdjust="spacingAndGlyphs">C0.14442</text>
<text x="368.5" y="39.5" font-family="Liberation Sans, sans-serif" font-size="10.2" fill="#1e1e22" stroke="#1e1e22" stroke-width="0.2" textLength="38.0" lengthAdjust="spacingAndGlyphs">−0.00214</text>
<text x="410.6" y="39.5" font-family="Liberation Sans, sans-serif" font-size="10.2" fill="#1e1e22" stroke="#1e1e22" stroke-width="0.2" textLength="39.8" lengthAdjust="spacingAndGlyphs">(−1.46%)</text>
<text x="15.6" y="53.5" font-family="Liberation Sans, sans-serif" font-size="10.2" fill="#1e1e22" stroke="#1e1e22" stroke-width="0.2" textLength="13.8" lengthAdjust="spacingAndGlyphs">Vol</text>
<text x="39.1" y="53.5" font-family="Liberation Sans, sans-serif" font-size="10.2" fill="#1e1e22" stroke="#1e1e22" stroke-width="0.2" textLength="23.8" lengthAdjust="spacingAndGlyphs">HBAR</text>
<text x="70.4" y="53.5" font-family="Liberation Sans, sans-serif" font-size="10.2" fill="#f0605d" stroke="#f0605d" stroke-width="0.2" textLength="22.7" lengthAdjust="spacingAndGlyphs">16.51</text>
<text x="95.4" y="53.5" font-family="Liberation Sans, sans-serif" font-size="10.2" fill="#f0605d" stroke="#f0605d" stroke-width="0.2" textLength="7.7" lengthAdjust="spacingAndGlyphs">M</text>
<circle cx="105.4" cy="36.6" r="0.85" fill="#1e1e22"/>
<circle cx="126.4" cy="36.6" r="0.85" fill="#1e1e22"/>
<circle cx="34.2" cy="50.6" r="0.85" fill="#1e1e22"/>
<text x="15.6" y="282.9" font-family="Liberation Sans, sans-serif" font-size="10.2" fill="#1e1e22" stroke="#1e1e22" stroke-width="0.2" textLength="24.8" lengthAdjust="spacingAndGlyphs">MACD</text>
<text x="44.6" y="282.9" font-family="Liberation Sans, sans-serif" font-size="10.2" fill="#1e1e22" stroke="#1e1e22" stroke-width="0.2" textLength="16.65" lengthAdjust="spacingAndGlyphs">(12,</text>
<text x="65" y="282.9" font-family="Liberation Sans, sans-serif" font-size="10.2" fill="#1e1e22" stroke="#1e1e22" stroke-width="0.2" textLength="13.1" lengthAdjust="spacingAndGlyphs">26,</text>
<text x="82.5" y="282.9" font-family="Liberation Sans, sans-serif" font-size="10.2" fill="#1e1e22" stroke="#1e1e22" stroke-width="0.2" textLength="26.0" lengthAdjust="spacingAndGlyphs">close)</text>
<text x="115.6" y="282.9" font-family="Liberation Sans, sans-serif" font-size="10.2" fill="#b2dfdb" stroke="#b2dfdb" stroke-width="0.2" textLength="35.0" lengthAdjust="spacingAndGlyphs">0.00218</text>
<text x="156.9" y="282.9" font-family="Liberation Sans, sans-serif" font-size="10.2" fill="#4b4bf5" stroke="#4b4bf5" stroke-width="0.2" textLength="35.0" lengthAdjust="spacingAndGlyphs">0.00174</text>
<text x="199" y="282.9" font-family="Liberation Sans, sans-serif" font-size="10.2" fill="#fdb72b" stroke="#fdb72b" stroke-width="0.2" textLength="39.6" lengthAdjust="spacingAndGlyphs">−0.00044</text>
<text x="15.6" y="404.4" font-family="Liberation Sans, sans-serif" font-size="10.2" fill="#1e1e22" stroke="#1e1e22" stroke-width="0.2" textLength="18.15" lengthAdjust="spacingAndGlyphs">CMF</text>
<text x="37.75" y="404.4" font-family="Liberation Sans, sans-serif" font-size="10.2" fill="#1e1e22" stroke="#1e1e22" stroke-width="0.2" textLength="16.65" lengthAdjust="spacingAndGlyphs">(20)</text>
<text x="61" y="404.4" font-family="Liberation Sans, sans-serif" font-size="10.2" fill="#4faa54" stroke="#4faa54" stroke-width="0.2" textLength="18.75" lengthAdjust="spacingAndGlyphs">0.08</text>
<text x="965.5" y="30.8" font-family="Liberation Sans, sans-serif" font-size="10.2" fill="#1e1e22" textLength="35.5" lengthAdjust="spacingAndGlyphs" clip-path="url(#ca1)">0.24000</text>
<text x="965.5" y="62.5" font-family="Liberation Sans, sans-serif" font-size="10.2" fill="#1e1e22" textLength="35.5" lengthAdjust="spacingAndGlyphs" clip-path="url(#ca1)">0.22000</text>
<text x="965.5" y="157.5" font-family="Liberation Sans, sans-serif" font-size="10.2" fill="#1e1e22" textLength="35.5" lengthAdjust="spacingAndGlyphs" clip-path="url(#ca1)">0.16000</text>
<text x="965.5" y="220.9" font-family="Liberation Sans, sans-serif" font-size="10.2" fill="#1e1e22" textLength="35.5" lengthAdjust="spacingAndGlyphs" clip-path="url(#ca1)">0.12000</text>
<text x="965.5" y="252.6" font-family="Liberation Sans, sans-serif" font-size="10.2" fill="#1e1e22" textLength="35.5" lengthAdjust="spacingAndGlyphs" clip-path="url(#ca1)">0.10000</text>
<text x="965.5" y="270.8" font-family="Liberation Sans, sans-serif" font-size="10.2" fill="#1e1e22" textLength="35.5" lengthAdjust="spacingAndGlyphs">0.01000</text>
<text x="965.5" y="303.1" font-family="Liberation Sans, sans-serif" font-size="10.2" fill="#1e1e22" textLength="35.5" lengthAdjust="spacingAndGlyphs" clip-path="url(#ca2)">0.00500</text>
<text x="965.5" y="368.8" font-family="Liberation Sans, sans-serif" font-size="10.2" fill="#1e1e22" textLength="40" lengthAdjust="spacingAndGlyphs" clip-path="url(#ca2)">−0.00500</text>
<text x="965.4" y="402.3" font-family="Liberation Sans, sans-serif" font-size="10.2" fill="#1e1e22" textLength="19.5" lengthAdjust="spacingAndGlyphs" clip-path="url(#ca3)">0.40</text>
<text x="965.4" y="429.6" font-family="Liberation Sans, sans-serif" font-size="10.2" fill="#1e1e22" textLength="19.5" lengthAdjust="spacingAndGlyphs" clip-path="url(#ca3)">0.20</text>
<text x="965.4" y="456.6" font-family="Liberation Sans, sans-serif" font-size="10.2" fill="#1e1e22" textLength="19.5" lengthAdjust="spacingAndGlyphs" clip-path="url(#ca3)">0.00</text>
<text x="965.4" y="483.9" font-family="Liberation Sans, sans-serif" font-size="10.2" fill="#1e1e22" textLength="25.4" lengthAdjust="spacingAndGlyphs" clip-path="url(#ca3)">−0.20</text>
<text x="965.4" y="510.8" font-family="Liberation Sans, sans-serif" font-size="10.2" fill="#1e1e22" textLength="25.4" lengthAdjust="spacingAndGlyphs" clip-path="url(#ca3)">−0.40</text>
<rect x="958.6" y="83.2" width="47.2" height="13.9" rx="1.5" fill="#2a2a2a"/>
<text x="965.6" y="93.8" font-family="Liberation Sans, sans-serif" font-size="10.2" fill="#fff" stroke="#fff" stroke-width="0.3" textLength="35.7" lengthAdjust="spacingAndGlyphs">0.20000</text>
<rect x="958.6" y="116" width="47.2" height="13.9" rx="1.5" fill="#2a2a2a"/>
<text x="965.6" y="126.6" font-family="Liberation Sans, sans-serif" font-size="10.2" fill="#fff" stroke="#fff" stroke-width="0.3" textLength="35.7" lengthAdjust="spacingAndGlyphs">0.18000</text>
<rect x="958.6" y="158" width="47.2" height="13.3" rx="1.5" fill="#2962ff"/>
<text x="965.6" y="168.2" font-family="Liberation Sans, sans-serif" font-size="10.2" fill="#fff" stroke="#fff" stroke-width="0.3" textLength="35.7" lengthAdjust="spacingAndGlyphs">0.15000</text>
<rect x="958.6" y="171.9" width="50.6" height="25.2" rx="1.5" fill="#f23645"/>
<text x="965.6" y="182.2" font-family="Liberation Sans, sans-serif" font-size="10.2" fill="#fff" stroke="#fff" stroke-width="0.3" textLength="35.7" lengthAdjust="spacingAndGlyphs">0.14442</text>
<text x="965.6" y="194.3" font-family="Liberation Sans, sans-serif" font-size="10.2" fill="#fcd3d7" stroke="#fcd3d7" stroke-width="0.3" textLength="36.5" lengthAdjust="spacingAndGlyphs">01:41:13</text>
<rect x="958.6" y="198.2" width="47.2" height="13.3" rx="1.5" fill="#2a2a2a"/>
<text x="965.6" y="208.4" font-family="Liberation Sans, sans-serif" font-size="10.2" fill="#fff" stroke="#fff" stroke-width="0.3" textLength="35.7" lengthAdjust="spacingAndGlyphs">0.13000</text>
<rect x="958.6" y="251.8" width="44.4" height="14.0" rx="1.5" fill="#ef5350"/>
<text x="966.8" y="262.5" font-family="Liberation Sans, sans-serif" font-size="10.2" fill="#fff" stroke="#fff" stroke-width="0.3" textLength="20.9" lengthAdjust="spacingAndGlyphs">16.51</text>
<text x="991.6" y="262.5" font-family="Liberation Sans, sans-serif" font-size="10.2" fill="#fff" stroke="#fff" stroke-width="0.3" textLength="7.8" lengthAdjust="spacingAndGlyphs">M</text>
<rect x="958.6" y="311.4" width="47.2" height="13.4" rx="1.5" fill="#b2dfdb"/>
<text x="965.6" y="321.7" font-family="Liberation Sans, sans-serif" font-size="10.2" fill="#2a2a2a" stroke="#2a2a2a" stroke-width="0.3" textLength="35.7" lengthAdjust="spacingAndGlyphs">0.00218</text>
<rect x="958.6" y="325.6" width="47.2" height="14.0" rx="1.5" fill="#3939fb"/>
<text x="965.6" y="336.2" font-family="Liberation Sans, sans-serif" font-size="10.2" fill="#fff" stroke="#fff" stroke-width="0.3" textLength="35.7" lengthAdjust="spacingAndGlyphs">0.00174</text>
<rect x="958.6" y="340.2" width="52.3" height="13.2" rx="1.5" fill="#ffb000"/>
<text x="966.4" y="350.4" font-family="Liberation Sans, sans-serif" font-size="10.2" fill="#2a2a2a" stroke="#2a2a2a" stroke-width="0.3" textLength="40" lengthAdjust="spacingAndGlyphs">−0.00044</text>
<rect x="958.6" y="436.7" width="30.9" height="12.9" rx="1.5" fill="#43a047"/>
<text x="965.4" y="446.8" font-family="Liberation Sans, sans-serif" font-size="10.2" fill="#fff" stroke="#fff" stroke-width="0.3" textLength="19.5" lengthAdjust="spacingAndGlyphs">0.08</text>
<text x="13.2" y="525.5" font-family="Liberation Sans, sans-serif" font-size="10.2" fill="#1e1e22" stroke="#1e1e22" stroke-width="0.2" textLength="10.6" lengthAdjust="spacingAndGlyphs">26</text>
<text x="75.2" y="525.5" font-family="Liberation Sans, sans-serif" font-size="10.2" fill="#1e1e22" stroke="#1e1e22" stroke-width="0.2" textLength="10.6" lengthAdjust="spacingAndGlyphs">28</text>
<text x="136.2" y="525.5" font-family="Liberation Sans, sans-serif" font-size="10.2" fill="#1e1e22" stroke="#1e1e22" stroke-width="0.2" textLength="10.6" lengthAdjust="spacingAndGlyphs">30</text>
<text x="193.5" y="525.5" font-family="Liberation Sans, sans-serif" font-size="10.2" fill="#1e1e22" stroke="#1e1e22" stroke-width="0.55" textLength="18" lengthAdjust="spacingAndGlyphs">Nov</text>
<text x="261.2" y="525.5" font-family="Liberation Sans, sans-serif" font-size="10.2" fill="#1e1e22" stroke="#1e1e22" stroke-width="0.2" textLength="4.6" lengthAdjust="spacingAndGlyphs">3</text>
<text x="322.2" y="525.5" font-family="Liberation Sans, sans-serif" font-size="10.2" fill="#1e1e22" stroke="#1e1e22" stroke-width="0.2" textLength="4.6" lengthAdjust="spacingAndGlyphs">5</text>
<text x="384.2" y="525.5" font-family="Liberation Sans, sans-serif" font-size="10.2" fill="#1e1e22" stroke="#1e1e22" stroke-width="0.2" textLength="4.6" lengthAdjust="spacingAndGlyphs">7</text>
<text x="445.2" y="525.5" font-family="Liberation Sans, sans-serif" font-size="10.2" fill="#1e1e22" stroke="#1e1e22" stroke-width="0.2" textLength="4.6" lengthAdjust="spacingAndGlyphs">9</text>
<text x="503.2" y="525.5" font-family="Liberation Sans, sans-serif" font-size="10.2" fill="#1e1e22" stroke="#1e1e22" stroke-width="0.2" textLength="10.6" lengthAdjust="spacingAndGlyphs">11</text>
<text x="564.2" y="525.5" font-family="Liberation Sans, sans-serif" font-size="10.2" fill="#1e1e22" stroke="#1e1e22" stroke-width="0.2" textLength="10.6" lengthAdjust="spacingAndGlyphs">13</text>
<text x="626.2" y="525.5" font-family="Liberation Sans, sans-serif" font-size="10.2" fill="#1e1e22" stroke="#1e1e22" stroke-width="0.2" textLength="10.6" lengthAdjust="spacingAndGlyphs">15</text>
<text x="687.2" y="525.5" font-family="Liberation Sans, sans-serif" font-size="10.2" fill="#1e1e22" stroke="#1e1e22" stroke-width="0.2" textLength="10.6" lengthAdjust="spacingAndGlyphs">17</text>
<text x="748.2" y="525.5" font-family="Liberation Sans, sans-serif" font-size="10.2" fill="#1e1e22" stroke="#1e1e22" stroke-width="0.2" textLength="10.6" lengthAdjust="spacingAndGlyphs">19</text>
<text x="809.2" y="525.5" font-family="Liberation Sans, sans-serif" font-size="10.2" fill="#1e1e22" stroke="#1e1e22" stroke-width="0.2" textLength="10.6" lengthAdjust="spacingAndGlyphs">21</text>
<text x="870.2" y="525.5" font-family="Liberation Sans, sans-serif" font-size="10.2" fill="#1e1e22" stroke="#1e1e22" stroke-width="0.2" textLength="10.6" lengthAdjust="spacingAndGlyphs">23</text>
<text x="931.2" y="525.5" font-family="Liberation Sans, sans-serif" font-size="10.2" fill="#1e1e22" stroke="#1e1e22" stroke-width="0.2" textLength="10.6" lengthAdjust="spacingAndGlyphs">25</text>
<g transform="translate(10.6,549.5) scale(0.693,0.667)" fill="#131722"><path d="M14 22H7V11H0V4h14v18zM28 22h-8l7.5-18h8L28 22z"/><circle cx="20" cy="8" r="4"/></g>
<text x="41.2" y="564.2" font-family="Liberation Sans, sans-serif" font-size="16.6" fill="#131722" stroke="#131722" stroke-width="0.65" textLength="101.4" lengthAdjust="spacingAndGlyphs">TradingView</text>
</svg>
</body></html>
